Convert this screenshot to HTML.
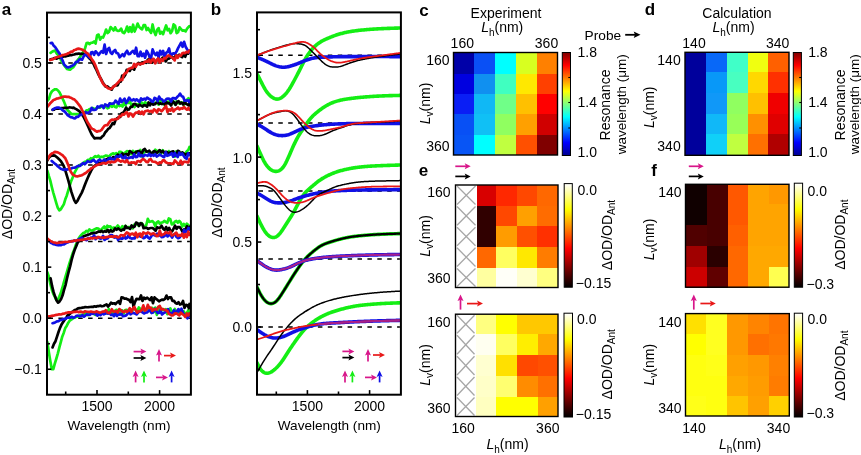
<!DOCTYPE html>
<html><head><meta charset="utf-8"><style>
html,body{margin:0;padding:0;background:#fff;}
svg{display:block;will-change:transform;}
</style></head><body>
<svg width="861" height="455" viewBox="0 0 861 455">
<rect width="861" height="455" fill="#fff"/>
<defs>
<linearGradient id="jet" x1="0" y1="1" x2="0" y2="0">
<stop offset="0" stop-color="#00008f"/><stop offset="0.125" stop-color="#0000ff"/><stop offset="0.375" stop-color="#00ffff"/><stop offset="0.625" stop-color="#ffff00"/><stop offset="0.875" stop-color="#ff0000"/><stop offset="1" stop-color="#800000"/>
</linearGradient>
<linearGradient id="hot" x1="0" y1="1" x2="0" y2="0">
<stop offset="0" stop-color="#000000"/><stop offset="0.375" stop-color="#ff0000"/><stop offset="0.75" stop-color="#ffff00"/><stop offset="1" stop-color="#ffffff"/>
</linearGradient>
</defs>
<clipPath id="ca"><rect x="47.0" y="12.6" width="143.9" height="382.09999999999997"/></clipPath>
<clipPath id="cb0"><rect x="318" y="300" width="82.9" height="40"/></clipPath>
<clipPath id="cb"><rect x="257" y="12.4" width="143.9" height="382.3"/></clipPath>
<line x1="48.5" y1="62.95" x2="189.9" y2="62.95" stroke="#000" stroke-width="1.5" stroke-dasharray="4.5 5.4"/>
<line x1="48.5" y1="114" x2="189.9" y2="114" stroke="#000" stroke-width="1.5" stroke-dasharray="4.5 5.4"/>
<line x1="48.5" y1="165.05" x2="189.9" y2="165.05" stroke="#000" stroke-width="1.5" stroke-dasharray="4.5 5.4"/>
<line x1="48.5" y1="241.62" x2="189.9" y2="241.62" stroke="#000" stroke-width="1.5" stroke-dasharray="4.5 5.4"/>
<line x1="48.5" y1="318.2" x2="189.9" y2="318.2" stroke="#000" stroke-width="1.5" stroke-dasharray="4.5 5.4"/>
<path d="M50.6 52.89 L52.1 51.76 L53.6 51 L55.1 50.55 L56.6 53.35 L58.1 55.07 L59.6 56.96 L61.1 60.37 L62.6 62.76 L64.1 65.18 L65.6 67.23 L67.1 69.05 L68.6 69.47 L70.1 69.66 L71.6 68.31 L73.1 67.42 L74.6 65.22 L76.1 62.77 L77.6 60.18 L79.1 58.23 L80.6 56.07 L82.1 53.41 L83.6 51.52 L85.1 48.22 L86.6 43.1 L88.1 42.86 L89.6 44.11 L91.1 42.78 L92.6 42.63 L94.1 41.46 L95.6 43.58 L97.1 35.26 L98.6 34.59 L100.1 39.65 L101.6 37.07 L103.1 37.56 L104.6 34.08 L106.1 29.54 L107.6 33.02 L109.1 31.64 L110.6 27.05 L112.1 28.58 L113.6 30.52 L115.1 27.34 L116.6 30.32 L118.1 30.95 L119.6 30.66 L121.1 28.59 L122.6 32.33 L124.1 33.15 L125.6 30.86 L127.1 26.53 L128.6 31.81 L130.1 27.2 L131.6 31.91 L133.1 24.71 L134.6 31.58 L136.1 28.07 L137.6 23.57 L139.1 26.89 L140.6 28.32 L142.1 29.33 L143.6 25.15 L145.1 25.05 L146.6 30.07 L148.1 28.02 L149.6 30.79 L151.1 32.86 L152.6 24.46 L154.1 31.46 L155.6 35.1 L157.1 29.81 L158.6 28.07 L160.1 33.69 L161.6 31.88 L163.1 34.13 L164.6 29.62 L166.1 25.48 L167.6 30.27 L169.1 28.97 L170.6 33.23 L172.1 31.04 L173.6 24.4 L175.1 25.82 L176.6 33.09 L178.1 32.18 L179.6 27.27 L181.1 29.32 L182.6 30.61 L184.1 30.33 L185.6 31.37 L187.1 28.71 L188.6 26.97 L189.5 26.08" fill="none" stroke="#14ee14" stroke-width="2.7" stroke-linejoin="round" stroke-linecap="round" clip-path="url(#ca)"/>
<path d="M50.2 59.64 L51.7 59.13 L53.2 58.8 L54.7 58 L56.2 58.61 L57.7 58.13 L59.2 57.47 L60.7 57.4 L62.2 56.97 L63.7 56.47 L65.2 56.51 L66.7 55.92 L68.2 55.62 L69.7 55.22 L71.2 55.2 L72.7 54.72 L74.2 54.49 L75.7 53.89 L77.2 53.81 L78.7 53.5 L80.2 53.91 L81.7 53.82 L83.2 53.95 L84.7 54.31 L86.2 54.84 L87.7 56.33 L89.2 58.21 L90.7 59.46 L92.2 61.66 L93.7 64.22 L95.2 67.71 L96.7 70.4 L98.2 73.92 L99.7 76.79 L101.2 79.44 L102.7 82.43 L104.2 84.54 L105.7 86.67 L107.2 86.34 L108.7 87.62 L110.2 88.4 L111.7 89.58 L113.2 86.74 L114.7 85.67 L116.2 85.28 L117.7 85.32 L119.2 81.84 L120.7 81.64 L122.2 75.59 L123.7 77.17 L125.2 75.03 L126.7 69.92 L128.2 70.71 L129.7 71 L131.2 68.14 L132.7 68.44 L134.2 69.57 L135.7 65.64 L137.2 64.16 L138.7 62.83 L140.2 64.42 L141.7 62.67 L143.2 62.26 L144.7 61.98 L146.2 62.77 L147.7 59.9 L149.2 58.96 L150.7 57.39 L152.2 62.66 L153.7 60.8 L155.2 62.79 L156.7 60.34 L158.2 59.05 L159.7 60.65 L161.2 59.56 L162.7 57.51 L164.2 57.76 L165.7 61.42 L167.2 58.98 L168.7 58.76 L170.2 57.41 L171.7 56.49 L173.2 58.58 L174.7 56.82 L176.2 55.57 L177.7 56.22 L179.2 54.77 L180.7 56.09 L182.2 57.14 L183.7 53.79 L185.2 56.72 L186.7 53.05 L188.2 53.73 L189.5 51.75" fill="none" stroke="#000000" stroke-width="2.7" stroke-linejoin="round" stroke-linecap="round" clip-path="url(#ca)"/>
<path d="M50.6 43.13 L52.1 42.9 L53.6 45.6 L55.1 47.08 L56.6 49.19 L58.1 51.61 L59.6 53.6 L61.1 57.42 L62.6 60.48 L64.1 64.57 L65.6 65.9 L67.1 67.19 L68.6 67.3 L70.1 66.74 L71.6 65.92 L73.1 65.3 L74.6 64.06 L76.1 61.85 L77.6 61.99 L79.1 59.79 L80.6 59.03 L82.1 59.72 L83.6 56.49 L85.1 54.48 L86.6 55.22 L88.1 56.38 L89.6 57.82 L91.1 52.54 L92.6 52.03 L94.1 54.82 L95.6 51.31 L97.1 52.84 L98.6 54.98 L100.1 52.96 L101.6 51.23 L103.1 52.77 L104.6 44.62 L106.1 54.04 L107.6 49.42 L109.1 47.85 L110.6 52.65 L112.1 53.81 L113.6 51.23 L115.1 49.93 L116.6 53.04 L118.1 53.46 L119.6 57.35 L121.1 55.76 L122.6 54.27 L124.1 56.23 L125.6 52.79 L127.1 50.77 L128.6 54.14 L130.1 53.96 L131.6 51.99 L133.1 50.81 L134.6 53.68 L136.1 47.75 L137.6 56.07 L139.1 56.24 L140.6 51.67 L142.1 56.09 L143.6 53.68 L145.1 57.71 L146.6 50.83 L148.1 53.27 L149.6 56.89 L151.1 57.67 L152.6 49.43 L154.1 53.17 L155.6 54.96 L157.1 52.55 L158.6 57.68 L160.1 50.85 L161.6 54.41 L163.1 50.88 L164.6 56.58 L166.1 52.93 L167.6 51.86 L169.1 48.38 L170.6 56.27 L172.1 53.72 L173.6 53.34 L175.1 53.79 L176.6 51.33 L178.1 48.17 L179.6 45.43 L181.1 42.67 L182.6 46.82 L184.1 41.77 L185.6 46.73 L187.1 49.29 L188.6 51.35 L189.5 52.38" fill="none" stroke="#1010e6" stroke-width="2.7" stroke-linejoin="round" stroke-linecap="round" clip-path="url(#ca)"/>
<path d="M50.2 59.96 L51.7 59.4 L53.2 59.14 L54.7 58.31 L56.2 57.24 L57.7 57.03 L59.2 56.38 L60.7 56.04 L62.2 55.16 L63.7 55.03 L65.2 54.48 L66.7 54.17 L68.2 53.27 L69.7 52.65 L71.2 51.55 L72.7 51.67 L74.2 50 L75.7 49.77 L77.2 48.85 L78.7 48.64 L80.2 48.95 L81.7 49.43 L83.2 50.25 L84.7 51.01 L86.2 52.69 L87.7 53.52 L89.2 55.6 L90.7 57.37 L92.2 59.92 L93.7 61.82 L95.2 65.11 L96.7 68.96 L98.2 72.59 L99.7 76.89 L101.2 79.95 L102.7 83.02 L104.2 85.11 L105.7 86.01 L107.2 87.54 L108.7 88.56 L110.2 89.08 L111.7 88.72 L113.2 86.82 L114.7 86.04 L116.2 84.44 L117.7 82.81 L119.2 81.23 L120.7 79.51 L122.2 79.98 L123.7 74.99 L125.2 73.25 L126.7 72.48 L128.2 69.2 L129.7 68.61 L131.2 67.89 L132.7 67.82 L134.2 63.91 L135.7 66.85 L137.2 63.78 L138.7 63.91 L140.2 64.3 L141.7 63.54 L143.2 63.66 L144.7 62.03 L146.2 61.44 L147.7 61.64 L149.2 59.6 L150.7 62.52 L152.2 59.6 L153.7 58.79 L155.2 63.31 L156.7 60.11 L158.2 58.49 L159.7 62.54 L161.2 59.24 L162.7 60.91 L164.2 57.96 L165.7 58.45 L167.2 56.1 L168.7 55.47 L170.2 56.45 L171.7 57.42 L173.2 58.38 L174.7 60.41 L176.2 55.32 L177.7 57.92 L179.2 55.36 L180.7 55.65 L182.2 53.39 L183.7 52.86 L185.2 53.11 L186.7 51.67 L188.2 52.37 L189.5 50.52" fill="none" stroke="#e81818" stroke-width="2.7" stroke-linejoin="round" stroke-linecap="round" clip-path="url(#ca)"/>
<path d="M47.5 100.8 L49 98.62 L50.5 93.72 L52 91.23 L53.5 90.1 L55 89.24 L56.5 89.44 L58 90.52 L59.5 92.44 L61 95.38 L62.5 98.52 L64 101.61 L65.5 105.53 L67 109.26 L68.5 111.04 L70 112.43 L71.5 114.05 L73 114 L74.5 114.14 L76 114.18 L77.5 114.12 L79 114.44 L80.5 114 L82 113.21 L83.5 112.73 L85 112.17 L86.5 110.37 L88 110.33 L89.5 109.2 L91 109.14 L92.5 107.98 L94 108.77 L95.5 108.58 L97 108.21 L98.5 107.28 L100 107.66 L101.5 106.52 L103 105.8 L104.5 107.4 L106 105.45 L107.5 108.34 L109 107.59 L110.5 103.43 L112 106.83 L113.5 104.8 L115 107.03 L116.5 107.34 L118 103.78 L119.5 106.09 L121 105.18 L122.5 106.61 L124 102.52 L125.5 105.35 L127 101.83 L128.5 102.8 L130 101.7 L131.5 105.47 L133 103.97 L134.5 107.13 L136 104.09 L137.5 104.44 L139 104.43 L140.5 101.97 L142 102.88 L143.5 105.3 L145 102.33 L146.5 103.32 L148 102.96 L149.5 104.04 L151 102.38 L152.5 102.74 L154 103.41 L155.5 103.18 L157 101.59 L158.5 104.66 L160 101.02 L161.5 101.29 L163 101.23 L164.5 105.12 L166 102.89 L167.5 101.85 L169 101.57 L170.5 104.22 L172 101.71 L173.5 101.34 L175 104.54 L176.5 101.47 L178 102.93 L179.5 103.35 L181 102.41 L182.5 102.8 L184 104.83 L185.5 101.29 L187 99.61 L188.5 98.18 L189.5 100.65" fill="none" stroke="#14ee14" stroke-width="2.7" stroke-linejoin="round" stroke-linecap="round" clip-path="url(#ca)"/>
<path d="M52.6 109.84 L54.1 109.64 L55.6 108.33 L57.1 108.59 L58.6 108.61 L60.1 108.49 L61.6 108.15 L63.1 108.17 L64.6 107.8 L66.1 107.82 L67.6 107.74 L69.1 107.46 L70.6 107.51 L72.1 107.79 L73.6 107.71 L75.1 108.61 L76.6 109.34 L78.1 110.33 L79.6 111.39 L81.1 113.65 L82.6 115.29 L84.1 117.89 L85.6 121.04 L87.1 124.21 L88.6 127.42 L90.1 130.96 L91.6 134.22 L93.1 136.48 L94.6 138.38 L96.1 138.15 L97.6 138.13 L99.1 138.1 L100.6 138.34 L102.1 136.62 L103.6 135.51 L105.1 132.57 L106.6 131.07 L108.1 128.93 L109.6 128.1 L111.1 125.8 L112.6 123.16 L114.1 124.06 L115.6 119.91 L117.1 118.37 L118.6 117.23 L120.1 117.14 L121.6 113.24 L123.1 112.77 L124.6 110.72 L126.1 107.57 L127.6 109.8 L129.1 109.4 L130.6 106.92 L132.1 106.82 L133.6 104.23 L135.1 103.88 L136.6 105.3 L138.1 106.58 L139.6 104.72 L141.1 105.67 L142.6 106.5 L144.1 105.01 L145.6 105.55 L147.1 106.69 L148.6 102.48 L150.1 105.33 L151.6 101.27 L153.1 104.67 L154.6 104.3 L156.1 103.18 L157.6 102.38 L159.1 103.91 L160.6 103.38 L162.1 104.15 L163.6 102.64 L165.1 104.82 L166.6 102.44 L168.1 103.45 L169.6 103.16 L171.1 105.46 L172.6 101.11 L174.1 102.55 L175.6 104.82 L177.1 102.01 L178.6 101.16 L180.1 103.48 L181.6 102.69 L183.1 104.47 L184.6 101.97 L186.1 103.8 L187.6 104.7 L189.1 105.49 L189.5 102.34" fill="none" stroke="#000000" stroke-width="2.7" stroke-linejoin="round" stroke-linecap="round" clip-path="url(#ca)"/>
<path d="M52.6 109.6 L54.1 108.69 L55.6 107.95 L57.1 107.52 L58.6 107.66 L60.1 108.1 L61.6 109.28 L63.1 110.63 L64.6 111.52 L66.1 113.21 L67.6 115.12 L69.1 116.21 L70.6 117.11 L72.1 117.39 L73.6 118.18 L75.1 118.49 L76.6 116.75 L78.1 116.83 L79.6 115.1 L81.1 114.82 L82.6 113.4 L84.1 114.05 L85.6 112.22 L87.1 113.23 L88.6 112.53 L90.1 111.54 L91.6 107.92 L93.1 109.86 L94.6 109.91 L96.1 109.53 L97.6 106.37 L99.1 107.37 L100.6 105.91 L102.1 105.58 L103.6 108.07 L105.1 104.44 L106.6 105.22 L108.1 106.27 L109.6 103.41 L111.1 103.75 L112.6 103.67 L114.1 103.14 L115.6 100.55 L117.1 102.25 L118.6 103.91 L120.1 98.61 L121.6 102.03 L123.1 100.33 L124.6 98.78 L126.1 103.04 L127.6 100.93 L129.1 97.63 L130.6 99.68 L132.1 100.48 L133.6 99.19 L135.1 100.63 L136.6 99.39 L138.1 100.6 L139.6 101.87 L141.1 98.39 L142.6 99.84 L144.1 98.74 L145.6 99.72 L147.1 97.6 L148.6 98.69 L150.1 99.43 L151.6 101.35 L153.1 101.84 L154.6 97.81 L156.1 98.68 L157.6 101.02 L159.1 96.6 L160.6 99.03 L162.1 99.54 L163.6 101.67 L165.1 100.63 L166.6 98.86 L168.1 98.69 L169.6 98.77 L171.1 101.56 L172.6 98.17 L174.1 98.16 L175.6 98.88 L177.1 97.03 L178.6 95.7 L180.1 93.66 L181.6 96.14 L183.1 96.74 L184.6 100.68 L186.1 100.65 L187.6 100.24 L189.1 101.97 L189.5 100.44" fill="none" stroke="#1010e6" stroke-width="2.7" stroke-linejoin="round" stroke-linecap="round" clip-path="url(#ca)"/>
<path d="M47.5 106.63 L49 104.87 L50.5 102.95 L52 101.52 L53.5 100 L55 99.53 L56.5 98.6 L58 98.37 L59.5 97.92 L61 97.59 L62.5 97.08 L64 96.63 L65.5 96.68 L67 96.9 L68.5 96.77 L70 97.53 L71.5 98 L73 99.01 L74.5 99.62 L76 101.17 L77.5 102.96 L79 104.88 L80.5 106.85 L82 109.96 L83.5 112.85 L85 116.58 L86.5 120.18 L88 123.05 L89.5 125.17 L91 127.96 L92.5 128.82 L94 129.62 L95.5 130.92 L97 131.73 L98.5 131.06 L100 131 L101.5 129.99 L103 127.76 L104.5 125.78 L106 125.11 L107.5 125.17 L109 122.52 L110.5 120.71 L112 119.71 L113.5 119.88 L115 119.1 L116.5 119.24 L118 118.72 L119.5 116.09 L121 116.08 L122.5 114.1 L124 114.73 L125.5 112.75 L127 112.31 L128.5 116.47 L130 113.44 L131.5 114.1 L133 116.57 L134.5 113.96 L136 112.55 L137.5 112.65 L139 111.39 L140.5 113.82 L142 111.66 L143.5 114.4 L145 111.22 L146.5 110.94 L148 110.57 L149.5 111.74 L151 110.84 L152.5 112.24 L154 109.31 L155.5 110.29 L157 112.38 L158.5 109.12 L160 110 L161.5 111.27 L163 109.7 L164.5 107.95 L166 105.91 L167.5 112.15 L169 109.4 L170.5 110.56 L172 108.13 L173.5 111.35 L175 109.53 L176.5 108.87 L178 107.55 L179.5 109.36 L181 108.24 L182.5 108.71 L184 106.87 L185.5 108.59 L187 109.65 L188.5 107.84 L189.5 109.8" fill="none" stroke="#e81818" stroke-width="2.7" stroke-linejoin="round" stroke-linecap="round" clip-path="url(#ca)"/>
<path d="M47.3 170.6 L48.8 175.85 L50.3 180.67 L51.8 186.98 L53.3 192.75 L54.8 197.94 L56.3 203.02 L57.8 207.8 L59.3 210.29 L60.8 209.27 L62.3 206.8 L63.8 204.38 L65.3 199.33 L66.8 195.47 L68.3 190.34 L69.8 185.45 L71.3 180.71 L72.8 177.26 L74.3 173.06 L75.8 170.31 L77.3 167.54 L78.8 166.18 L80.3 164.57 L81.8 164.61 L83.3 162.92 L84.8 161.85 L86.3 161.52 L87.8 159.85 L89.3 160.08 L90.8 158.23 L92.3 158.93 L93.8 157.3 L95.3 156.2 L96.8 156.91 L98.3 155.73 L99.8 157.49 L101.3 156.69 L102.8 157.04 L104.3 156.33 L105.8 155.54 L107.3 155.83 L108.8 157.09 L110.3 155.08 L111.8 153.92 L113.3 153.28 L114.8 154.23 L116.3 153.06 L117.8 157.27 L119.3 151.81 L120.8 151.73 L122.3 152.81 L123.8 154.22 L125.3 152.47 L126.8 151.14 L128.3 151.27 L129.8 151.95 L131.3 154.16 L132.8 150.84 L134.3 152.34 L135.8 151.46 L137.3 153.05 L138.8 153.18 L140.3 150.01 L141.8 156.56 L143.3 152.82 L144.8 151.63 L146.3 150.98 L147.8 152.06 L149.3 152.55 L150.8 153.51 L152.3 152.51 L153.8 153.32 L155.3 149.77 L156.8 151.25 L158.3 150.84 L159.8 152.88 L161.3 153.42 L162.8 150.21 L164.3 152.48 L165.8 154.06 L167.3 154.44 L168.8 151.06 L170.3 153.97 L171.8 153.67 L173.3 152.44 L174.8 156.62 L176.3 151.48 L177.8 152.98 L179.3 154.27 L180.8 153.85 L182.3 152.69 L183.8 154.5 L185.3 153.51 L186.8 151.27 L188.3 149.94 L189.5 146.91" fill="none" stroke="#14ee14" stroke-width="2.7" stroke-linejoin="round" stroke-linecap="round" clip-path="url(#ca)"/>
<path d="M47.3 160.65 L48.8 157.71 L50.3 156.18 L51.8 155.81 L53.3 155.37 L54.8 155.62 L56.3 156.72 L57.8 158.02 L59.3 159.4 L60.8 161.11 L62.3 163.42 L63.8 166.22 L65.3 170.3 L66.8 175.33 L68.3 180.4 L69.8 186 L71.3 191.67 L72.8 196.07 L74.3 200.35 L75.8 202.78 L77.3 201.07 L78.8 198.11 L80.3 195.41 L81.8 192.6 L83.3 189.06 L84.8 184.95 L86.3 181.17 L87.8 177.68 L89.3 174.39 L90.8 171.3 L92.3 168.68 L93.8 166.35 L95.3 165.41 L96.8 164.07 L98.3 163.24 L99.8 163.2 L101.3 161.87 L102.8 161.31 L104.3 160.92 L105.8 159.78 L107.3 158.91 L108.8 158.31 L110.3 159.05 L111.8 158.37 L113.3 156.97 L114.8 158.11 L116.3 156.71 L117.8 154.64 L119.3 156.43 L120.8 155.27 L122.3 153.54 L123.8 155.65 L125.3 154.33 L126.8 154.08 L128.3 155.31 L129.8 151.02 L131.3 152.18 L132.8 153.23 L134.3 153.95 L135.8 152.26 L137.3 151.42 L138.8 151.02 L140.3 152.16 L141.8 153.17 L143.3 149.92 L144.8 148.95 L146.3 151.6 L147.8 151.46 L149.3 150.66 L150.8 152.93 L152.3 153.21 L153.8 151.15 L155.3 151.5 L156.8 152.91 L158.3 151.48 L159.8 150.1 L161.3 152.2 L162.8 151.03 L164.3 152.96 L165.8 151.78 L167.3 152.31 L168.8 153.43 L170.3 152.52 L171.8 151.81 L173.3 151.31 L174.8 155.47 L176.3 154.62 L177.8 150.79 L179.3 151.56 L180.8 154.12 L182.3 152.47 L183.8 153.5 L185.3 154.83 L186.8 153.93 L188.3 153.69 L189.5 153.29" fill="none" stroke="#000000" stroke-width="2.7" stroke-linejoin="round" stroke-linecap="round" clip-path="url(#ca)"/>
<path d="M51.7 160.91 L53.2 162.31 L54.7 163.51 L56.2 164.61 L57.7 166.31 L59.2 167.51 L60.7 168.71 L62.2 169.34 L63.7 169.87 L65.2 169.21 L66.7 169.82 L68.2 169.12 L69.7 169.1 L71.2 168.39 L72.7 167.76 L74.2 167.64 L75.7 167.33 L77.2 166.21 L78.7 165.74 L80.2 165.87 L81.7 164.14 L83.2 163.05 L84.7 164.26 L86.2 162.8 L87.7 161.08 L89.2 161.84 L90.7 161.87 L92.2 160.68 L93.7 159.95 L95.2 161.62 L96.7 162.54 L98.2 160.71 L99.7 159.67 L101.2 161.08 L102.7 161.3 L104.2 159.51 L105.7 160.51 L107.2 161 L108.7 158.89 L110.2 157.75 L111.7 159.28 L113.2 158.92 L114.7 160 L116.2 156.24 L117.7 156.99 L119.2 156.55 L120.7 155.03 L122.2 157.66 L123.7 158.1 L125.2 156.05 L126.7 159.09 L128.2 158.09 L129.7 157.66 L131.2 157.18 L132.7 157.87 L134.2 154.29 L135.7 157.05 L137.2 156.89 L138.7 153.19 L140.2 156.23 L141.7 155.21 L143.2 156.66 L144.7 154.75 L146.2 155.3 L147.7 155.78 L149.2 153.89 L150.7 156.04 L152.2 154.92 L153.7 155.75 L155.2 154.16 L156.7 156.48 L158.2 155.67 L159.7 154.41 L161.2 155.55 L162.7 156.43 L164.2 157.19 L165.7 152.14 L167.2 155.85 L168.7 155.27 L170.2 154.49 L171.7 153.19 L173.2 156.67 L174.7 152.98 L176.2 155.81 L177.7 156.99 L179.2 152.73 L180.7 154.78 L182.2 153.38 L183.7 155.83 L185.2 157.87 L186.7 158.77 L188.2 153.21 L189.5 155.14" fill="none" stroke="#1010e6" stroke-width="2.7" stroke-linejoin="round" stroke-linecap="round" clip-path="url(#ca)"/>
<path d="M47.3 159.8 L48.8 157.09 L50.3 154.81 L51.8 153.58 L53.3 152.87 L54.8 151.85 L56.3 152.1 L57.8 152.33 L59.3 153.09 L60.8 154.11 L62.3 155.05 L63.8 156.6 L65.3 158.27 L66.8 161.62 L68.3 165.16 L69.8 169.91 L71.3 172.54 L72.8 174.62 L74.3 175.44 L75.8 176.23 L77.3 176.43 L78.8 176.01 L80.3 175.6 L81.8 175.2 L83.3 174.39 L84.8 173.51 L86.3 172.59 L87.8 171.24 L89.3 170.22 L90.8 168.57 L92.3 167.98 L93.8 166.71 L95.3 165.94 L96.8 165.03 L98.3 164.68 L99.8 164.08 L101.3 163.76 L102.8 163.06 L104.3 163.01 L105.8 163.66 L107.3 162.64 L108.8 161.78 L110.3 162.64 L111.8 161.68 L113.3 162.08 L114.8 161.96 L116.3 160.91 L117.8 159.27 L119.3 160.7 L120.8 161.6 L122.3 160.55 L123.8 161.48 L125.3 162.15 L126.8 160.22 L128.3 162.56 L129.8 163.16 L131.3 162.41 L132.8 162.53 L134.3 162.45 L135.8 164.1 L137.3 161.25 L138.8 161.04 L140.3 161.94 L141.8 159.88 L143.3 159.04 L144.8 160.07 L146.3 161.96 L147.8 162.25 L149.3 159.58 L150.8 159.23 L152.3 161.51 L153.8 161.74 L155.3 161.93 L156.8 162.94 L158.3 163.72 L159.8 162.32 L161.3 162.86 L162.8 160.47 L164.3 160.35 L165.8 162.34 L167.3 163.03 L168.8 163.25 L170.3 163.24 L171.8 163.7 L173.3 163.91 L174.8 160.46 L176.3 161.96 L177.8 163.63 L179.3 163.76 L180.8 160.67 L182.3 164.24 L183.8 161.73 L185.3 161.73 L186.8 162.09 L188.3 162.38 L189.5 158.99" fill="none" stroke="#e81818" stroke-width="2.7" stroke-linejoin="round" stroke-linecap="round" clip-path="url(#ca)"/>
<path d="M47.3 272.11 L48.8 276.38 L50.3 283.75 L51.8 289.53 L53.3 293.86 L54.8 296.7 L56.3 300 L57.8 299.83 L59.3 296.59 L60.8 293.03 L62.3 288 L63.8 282.5 L65.3 277.31 L66.8 272.26 L68.3 267.23 L69.8 262.17 L71.3 257.69 L72.8 252.92 L74.3 249.51 L75.8 244.81 L77.3 241.73 L78.8 238.3 L80.3 236.07 L81.8 234.35 L83.3 232.91 L84.8 232.67 L86.3 230.89 L87.8 231.64 L89.3 229.48 L90.8 230.37 L92.3 230.68 L93.8 229.75 L95.3 228.97 L96.8 228.28 L98.3 228.53 L99.8 229.93 L101.3 229.63 L102.8 228.03 L104.3 226.5 L105.8 229.02 L107.3 225.7 L108.8 226.89 L110.3 226.35 L111.8 228.68 L113.3 227.66 L114.8 227.95 L116.3 227.44 L117.8 225.51 L119.3 227.64 L120.8 229.13 L122.3 226.27 L123.8 227.38 L125.3 225.82 L126.8 227.83 L128.3 227.01 L129.8 227.26 L131.3 226.12 L132.8 228.39 L134.3 224.49 L135.8 224.39 L137.3 223.76 L138.8 225.86 L140.3 223.4 L141.8 223.2 L143.3 225.62 L144.8 226.28 L146.3 225.03 L147.8 218.79 L149.3 221.87 L150.8 221.5 L152.3 221.11 L153.8 222.46 L155.3 226.46 L156.8 222.32 L158.3 221.33 L159.8 223.83 L161.3 222.48 L162.8 222.43 L164.3 220.81 L165.8 222.02 L167.3 222.81 L168.8 218.47 L170.3 219.13 L171.8 224.31 L173.3 224.02 L174.8 221.68 L176.3 220.9 L177.8 222.63 L179.3 220.91 L180.8 222.68 L182.3 226.59 L183.8 223.94 L185.3 226.08 L186.8 223.69 L188.3 225.01 L189.5 227.09" fill="none" stroke="#14ee14" stroke-width="2.7" stroke-linejoin="round" stroke-linecap="round" clip-path="url(#ca)"/>
<path d="M50.6 278.39 L52.1 286.2 L53.6 292.15 L55.1 296.6 L56.6 300.47 L58.1 302.7 L59.6 301.37 L61.1 298.96 L62.6 295.3 L64.1 289.57 L65.6 284.81 L67.1 277.98 L68.6 271.83 L70.1 266.36 L71.6 259.95 L73.1 254.69 L74.6 249.98 L76.1 246.53 L77.6 242.7 L79.1 240.69 L80.6 239.46 L82.1 237.54 L83.6 236.34 L85.1 235.75 L86.6 235.16 L88.1 234.59 L89.6 234.27 L91.1 233.25 L92.6 233.49 L94.1 232.72 L95.6 232.97 L97.1 232.33 L98.6 231.53 L100.1 231.78 L101.6 230.93 L103.1 232.13 L104.6 231.19 L106.1 231.74 L107.6 229.82 L109.1 232.19 L110.6 230.1 L112.1 231.66 L113.6 230.92 L115.1 228.38 L116.6 229.86 L118.1 228.48 L119.6 229.51 L121.1 230.75 L122.6 229.45 L124.1 229.82 L125.6 225.97 L127.1 227.93 L128.6 227.91 L130.1 228.94 L131.6 225.48 L133.1 227.17 L134.6 226.46 L136.1 222.56 L137.6 223.18 L139.1 225.82 L140.6 223.21 L142.1 223.69 L143.6 228.24 L145.1 227.93 L146.6 227.72 L148.1 228.89 L149.6 228.26 L151.1 228 L152.6 228 L154.1 229.33 L155.6 230.79 L157.1 227.36 L158.6 227.93 L160.1 227.61 L161.6 225.79 L163.1 228.64 L164.6 229.92 L166.1 227.05 L167.6 230.26 L169.1 227.9 L170.6 231.11 L172.1 231.33 L173.6 228.56 L175.1 225.74 L176.6 228.79 L178.1 226.97 L179.6 227.13 L181.1 229.04 L182.6 231.95 L184.1 229.33 L185.6 229.1 L187.1 226.17 L188.6 228.41 L189.5 226.99" fill="none" stroke="#000000" stroke-width="2.7" stroke-linejoin="round" stroke-linecap="round" clip-path="url(#ca)"/>
<path d="M50.6 242.68 L52.1 243.4 L53.6 244.22 L55.1 244.4 L56.6 244.97 L58.1 245.29 L59.6 244.87 L61.1 245.18 L62.6 244.31 L64.1 244.31 L65.6 243.44 L67.1 242.51 L68.6 242.08 L70.1 241.55 L71.6 241.14 L73.1 241.24 L74.6 240.46 L76.1 240.85 L77.6 240.04 L79.1 239.3 L80.6 238.08 L82.1 237.81 L83.6 239.15 L85.1 239.5 L86.6 240.17 L88.1 237.98 L89.6 238.61 L91.1 237.48 L92.6 237.82 L94.1 235.33 L95.6 239.14 L97.1 237.06 L98.6 237.88 L100.1 238.58 L101.6 238.35 L103.1 235.8 L104.6 239.98 L106.1 238.78 L107.6 238.34 L109.1 236.54 L110.6 235.07 L112.1 234.99 L113.6 237.08 L115.1 237.6 L116.6 236.26 L118.1 240.03 L119.6 237.7 L121.1 238.72 L122.6 238.55 L124.1 235.55 L125.6 238.61 L127.1 237.76 L128.6 235.14 L130.1 238.08 L131.6 238.56 L133.1 238.36 L134.6 238.41 L136.1 234.66 L137.6 236.34 L139.1 235.83 L140.6 236.67 L142.1 236.69 L143.6 238.17 L145.1 237.55 L146.6 235.12 L148.1 237.66 L149.6 238.69 L151.1 236.65 L152.6 233.88 L154.1 235.13 L155.6 235.79 L157.1 233.59 L158.6 235.8 L160.1 234.09 L161.6 237.19 L163.1 237.03 L164.6 235.89 L166.1 234.12 L167.6 236.43 L169.1 235.04 L170.6 234.97 L172.1 237.67 L173.6 234.86 L175.1 233.93 L176.6 237.06 L178.1 238.23 L179.6 237.54 L181.1 235.46 L182.6 235.63 L184.1 229.85 L185.6 231.92 L187.1 231.15 L188.6 227.91 L189.5 229.62" fill="none" stroke="#1010e6" stroke-width="2.7" stroke-linejoin="round" stroke-linecap="round" clip-path="url(#ca)"/>
<path d="M47.3 238.48 L48.8 239.84 L50.3 240.88 L51.8 241.63 L53.3 242.41 L54.8 242.49 L56.3 243.05 L57.8 242.91 L59.3 242.57 L60.8 242.52 L62.3 242.45 L63.8 241.98 L65.3 241.92 L66.8 242.01 L68.3 241.71 L69.8 241.53 L71.3 241.3 L72.8 241.01 L74.3 240.47 L75.8 240.87 L77.3 240.14 L78.8 240.28 L80.3 239.98 L81.8 239.79 L83.3 239.57 L84.8 239.2 L86.3 239.22 L87.8 238.53 L89.3 238.76 L90.8 238.04 L92.3 238.47 L93.8 237.94 L95.3 237.96 L96.8 238.08 L98.3 236.94 L99.8 237.31 L101.3 237.5 L102.8 237.54 L104.3 237.68 L105.8 237.21 L107.3 237.05 L108.8 236.68 L110.3 236.66 L111.8 236.39 L113.3 237.02 L114.8 236.22 L116.3 236.56 L117.8 237.38 L119.3 236.87 L120.8 235.15 L122.3 235.23 L123.8 236.02 L125.3 234.13 L126.8 232.35 L128.3 233.15 L129.8 235.09 L131.3 233.93 L132.8 233.68 L134.3 235.19 L135.8 232.64 L137.3 237.27 L138.8 234.11 L140.3 233.6 L141.8 236.88 L143.3 232.47 L144.8 233.24 L146.3 233.72 L147.8 232.41 L149.3 233.19 L150.8 234.4 L152.3 233.76 L153.8 233.43 L155.3 234.88 L156.8 236.14 L158.3 235.69 L159.8 230.57 L161.3 235.42 L162.8 234.59 L164.3 234.07 L165.8 232.13 L167.3 232.9 L168.8 233.29 L170.3 231.7 L171.8 235.46 L173.3 235.06 L174.8 233.88 L176.3 232.64 L177.8 235.92 L179.3 234.99 L180.8 235.64 L182.3 233.63 L183.8 237.63 L185.3 234.14 L186.8 237.13 L188.3 231.65 L189.5 234.93" fill="none" stroke="#e81818" stroke-width="2.7" stroke-linejoin="round" stroke-linecap="round" clip-path="url(#ca)"/>
<path d="M47.3 341.88 L48.8 351.89 L50.3 360.92 L51.8 369.24 L53.3 369.06 L54.8 363.69 L56.3 358.76 L57.8 353.55 L59.3 347.64 L60.8 342.09 L62.3 336.39 L63.8 332.67 L65.3 327.95 L66.8 325.66 L68.3 322.69 L69.8 320.52 L71.3 319.61 L72.8 318.31 L74.3 317.74 L75.8 316.93 L77.3 316.61 L78.8 316.1 L80.3 315.19 L81.8 314.89 L83.3 314.87 L84.8 314.37 L86.3 313.12 L87.8 315.12 L89.3 312.54 L90.8 312.33 L92.3 312.66 L93.8 313.93 L95.3 314.93 L96.8 313.06 L98.3 312.8 L99.8 313.29 L101.3 312.61 L102.8 313.04 L104.3 311.44 L105.8 313.34 L107.3 313.22 L108.8 309.08 L110.3 312.31 L111.8 312.63 L113.3 313.18 L114.8 310.78 L116.3 309.8 L117.8 310.33 L119.3 312.77 L120.8 310.28 L122.3 310.32 L123.8 313.45 L125.3 310.05 L126.8 309.74 L128.3 310.99 L129.8 311.35 L131.3 312.64 L132.8 309.2 L134.3 307.83 L135.8 310.09 L137.3 311.2 L138.8 307.42 L140.3 308.98 L141.8 310.24 L143.3 310.09 L144.8 309.85 L146.3 309.28 L147.8 308.37 L149.3 308.17 L150.8 311.74 L152.3 307.91 L153.8 311.93 L155.3 307.64 L156.8 314.85 L158.3 307 L159.8 312.72 L161.3 308.52 L162.8 309.91 L164.3 310.07 L165.8 309.16 L167.3 314.16 L168.8 310.64 L170.3 308.35 L171.8 311.82 L173.3 312.06 L174.8 309.03 L176.3 312.03 L177.8 311.4 L179.3 312.85 L180.8 312.86 L182.3 311.84 L183.8 311.38 L185.3 313.85 L186.8 313.08 L188.3 310.26 L189.5 312.07" fill="none" stroke="#14ee14" stroke-width="2.7" stroke-linejoin="round" stroke-linecap="round" clip-path="url(#ca)"/>
<path d="M52.5 347.46 L54 343.76 L55.5 341.2 L57 336.65 L58.5 332.02 L60 327.87 L61.5 324.57 L63 322.22 L64.5 319.97 L66 318.27 L67.5 315.47 L69 314.7 L70.5 313.3 L72 311.91 L73.5 311.16 L75 309.91 L76.5 309.42 L78 308.42 L79.5 308.18 L81 307.98 L82.5 307.61 L84 307.43 L85.5 307.06 L87 307.25 L88.5 307.17 L90 306.98 L91.5 306.86 L93 306.97 L94.5 306.26 L96 306.73 L97.5 306.1 L99 306.04 L100.5 305.66 L102 306.29 L103.5 306 L105 305.1 L106.5 304.39 L108 306.56 L109.5 304.91 L111 302.62 L112.5 303.73 L114 303.29 L115.5 304.15 L117 302.43 L118.5 301.18 L120 303.85 L121.5 297.46 L123 297.59 L124.5 298.63 L126 298.53 L127.5 299.37 L129 299.79 L130.5 302.14 L132 297.08 L133.5 306.7 L135 301.78 L136.5 298.83 L138 299.14 L139.5 299.19 L141 295.39 L142.5 300.85 L144 297.67 L145.5 298.86 L147 297.7 L148.5 298.74 L150 300.05 L151.5 297.3 L153 303.19 L154.5 297.32 L156 298.95 L157.5 299.95 L159 301.3 L160.5 300.41 L162 299.59 L163.5 299.82 L165 298.84 L166.5 295.58 L168 298.98 L169.5 297.24 L171 297.39 L172.5 300.84 L174 300.89 L175.5 303.07 L177 303.71 L178.5 302.29 L180 304.59 L181.5 304.07 L183 300.97 L184.5 307.85 L186 304.91 L187.5 305.25 L189 308.35 L189.5 303.97" fill="none" stroke="#000000" stroke-width="2.7" stroke-linejoin="round" stroke-linecap="round" clip-path="url(#ca)"/>
<path d="M52.5 323.22 L54 322.91 L55.5 322.18 L57 321.36 L58.5 321.08 L60 320.04 L61.5 319.95 L63 319.15 L64.5 318.91 L66 318.39 L67.5 317.63 L69 317.68 L70.5 317.39 L72 316.76 L73.5 317.88 L75 317.12 L76.5 315.74 L78 315.61 L79.5 316.32 L81 316.16 L82.5 315.13 L84 316.69 L85.5 315.55 L87 314.45 L88.5 314.8 L90 314.88 L91.5 313.14 L93 313.86 L94.5 312.48 L96 314.37 L97.5 315.59 L99 312.82 L100.5 315.16 L102 312.88 L103.5 314.38 L105 313.83 L106.5 312.76 L108 313.73 L109.5 312.68 L111 314.91 L112.5 314.49 L114 316.17 L115.5 312.12 L117 315.89 L118.5 314.07 L120 314.72 L121.5 313.75 L123 316.27 L124.5 315.95 L126 315.38 L127.5 314.06 L129 310.07 L130.5 314.29 L132 313.26 L133.5 312.91 L135 313.55 L136.5 314.46 L138 312.84 L139.5 311.53 L141 310.89 L142.5 312.48 L144 313.5 L145.5 312.61 L147 312.43 L148.5 311.02 L150 309.8 L151.5 313.03 L153 312.48 L154.5 308.78 L156 310.38 L157.5 312.87 L159 312.87 L160.5 310.21 L162 314.46 L163.5 313.13 L165 312.43 L166.5 310.85 L168 309.06 L169.5 312.52 L171 314.16 L172.5 313.06 L174 310.26 L175.5 313.76 L177 311.22 L178.5 309.08 L180 313.03 L181.5 308.69 L183 313.17 L184.5 314.84 L186 315.31 L187.5 318.33 L189 315.81 L189.5 313.53" fill="none" stroke="#1010e6" stroke-width="2.7" stroke-linejoin="round" stroke-linecap="round" clip-path="url(#ca)"/>
<path d="M47.3 316.21 L48.8 316.46 L50.3 316.34 L51.8 315.88 L53.3 315.7 L54.8 315.26 L56.3 314.89 L57.8 314.61 L59.3 314.29 L60.8 314.49 L62.3 313.95 L63.8 313.69 L65.3 313.17 L66.8 312.75 L68.3 312.44 L69.8 312.31 L71.3 312.5 L72.8 312.18 L74.3 311.91 L75.8 311.87 L77.3 311.54 L78.8 312.21 L80.3 311.6 L81.8 311.93 L83.3 312.47 L84.8 311.3 L86.3 311.6 L87.8 311.78 L89.3 312.01 L90.8 311.55 L92.3 311.93 L93.8 311.99 L95.3 312.04 L96.8 311.32 L98.3 312.23 L99.8 312.66 L101.3 312.21 L102.8 311.61 L104.3 311.63 L105.8 310.24 L107.3 312.35 L108.8 313.19 L110.3 312.55 L111.8 309.23 L113.3 311.44 L114.8 311.61 L116.3 311.02 L117.8 312.58 L119.3 309.04 L120.8 310.09 L122.3 311.66 L123.8 312.05 L125.3 310.68 L126.8 311.84 L128.3 310.85 L129.8 308.07 L131.3 311.9 L132.8 308.83 L134.3 306.9 L135.8 310.35 L137.3 312.64 L138.8 311.19 L140.3 311.23 L141.8 309.85 L143.3 305.35 L144.8 310.57 L146.3 309.61 L147.8 304.82 L149.3 308.07 L150.8 307.61 L152.3 310.81 L153.8 309.21 L155.3 309.51 L156.8 309.46 L158.3 306.89 L159.8 305.92 L161.3 309.43 L162.8 308.99 L164.3 309.81 L165.8 310.33 L167.3 310.86 L168.8 313.89 L170.3 314.62 L171.8 315.45 L173.3 315.14 L174.8 313.45 L176.3 313.24 L177.8 314.32 L179.3 315.4 L180.8 312.63 L182.3 314.17 L183.8 314.95 L185.3 317 L186.8 313.48 L188.3 315.51 L189.5 313.39" fill="none" stroke="#e81818" stroke-width="2.7" stroke-linejoin="round" stroke-linecap="round" clip-path="url(#ca)"/>
<rect x="47.0" y="12.6" width="143.9" height="382.09999999999997" fill="none" stroke="#000" stroke-width="2"/>
<line x1="47" y1="369.25" x2="51.3" y2="369.25" stroke="#000" stroke-width="1.6" />
<line x1="47" y1="343.72" x2="50" y2="343.72" stroke="#000" stroke-width="1.6" />
<line x1="47" y1="318.2" x2="51.3" y2="318.2" stroke="#000" stroke-width="1.6" />
<line x1="47" y1="292.68" x2="50" y2="292.68" stroke="#000" stroke-width="1.6" />
<line x1="47" y1="267.15" x2="51.3" y2="267.15" stroke="#000" stroke-width="1.6" />
<line x1="47" y1="241.62" x2="50" y2="241.62" stroke="#000" stroke-width="1.6" />
<line x1="47" y1="216.1" x2="51.3" y2="216.1" stroke="#000" stroke-width="1.6" />
<line x1="47" y1="190.57" x2="50" y2="190.57" stroke="#000" stroke-width="1.6" />
<line x1="47" y1="165.05" x2="51.3" y2="165.05" stroke="#000" stroke-width="1.6" />
<line x1="47" y1="139.52" x2="50" y2="139.52" stroke="#000" stroke-width="1.6" />
<line x1="47" y1="114" x2="51.3" y2="114" stroke="#000" stroke-width="1.6" />
<line x1="47" y1="88.47" x2="50" y2="88.47" stroke="#000" stroke-width="1.6" />
<line x1="47" y1="62.95" x2="51.3" y2="62.95" stroke="#000" stroke-width="1.6" />
<line x1="47" y1="37.42" x2="50" y2="37.42" stroke="#000" stroke-width="1.6" />
<text x="41.9" y="67.95" font-size="14" text-anchor="end" font-weight="normal" font-family="Liberation Sans, sans-serif" >0.5</text>
<text x="41.9" y="119" font-size="14" text-anchor="end" font-weight="normal" font-family="Liberation Sans, sans-serif" >0.4</text>
<text x="41.9" y="170.05" font-size="14" text-anchor="end" font-weight="normal" font-family="Liberation Sans, sans-serif" >0.3</text>
<text x="41.9" y="221.1" font-size="14" text-anchor="end" font-weight="normal" font-family="Liberation Sans, sans-serif" >0.2</text>
<text x="41.9" y="272.15" font-size="14" text-anchor="end" font-weight="normal" font-family="Liberation Sans, sans-serif" >0.1</text>
<text x="41.9" y="323.2" font-size="14" text-anchor="end" font-weight="normal" font-family="Liberation Sans, sans-serif" >0.0</text>
<text x="41.9" y="374.25" font-size="14" text-anchor="end" font-weight="normal" font-family="Liberation Sans, sans-serif" >&#8722;0.1</text>
<line x1="65.7" y1="394.7" x2="65.7" y2="391.5" stroke="#000" stroke-width="1.6" />
<line x1="97" y1="394.7" x2="97" y2="390.1" stroke="#000" stroke-width="1.6" />
<line x1="128.3" y1="394.7" x2="128.3" y2="391.5" stroke="#000" stroke-width="1.6" />
<line x1="159.6" y1="394.7" x2="159.6" y2="390.1" stroke="#000" stroke-width="1.6" />
<text x="97" y="410.5" font-size="14" text-anchor="middle" font-weight="normal" font-family="Liberation Sans, sans-serif" >1500</text>
<text x="159.6" y="410.5" font-size="14" text-anchor="middle" font-weight="normal" font-family="Liberation Sans, sans-serif" >2000</text>
<text x="119" y="430" font-size="13.6" text-anchor="middle" font-weight="normal" font-family="Liberation Sans, sans-serif" >Wavelength (nm)</text>
<text transform="translate(12.3 204) rotate(-90)" font-size="14" text-anchor="middle" font-family="Liberation Sans, sans-serif">&#916;OD/OD<tspan font-size="10" dy="3">Ant</tspan></text>
<text x="1.8" y="15.2" font-size="17" text-anchor="start" font-weight="bold" font-family="Liberation Sans, sans-serif" >a</text>
<line x1="133.6" y1="351.6" x2="142" y2="351.6" stroke="#d8168a" stroke-width="1.7" />
<path d="M146.4 351.6 L140.4 348.6 L141.7 351.6 L140.4 354.6 Z" fill="#d8168a"/>
<line x1="133.6" y1="358" x2="142" y2="358" stroke="#000000" stroke-width="1.7" />
<path d="M146.4 358 L140.4 355 L141.7 358 L140.4 361 Z" fill="#000000"/>
<line x1="159" y1="361.6" x2="159" y2="353.9" stroke="#d8168a" stroke-width="1.7" />
<path d="M159 349 L156 355.5 L159 354.2 L162 355.5 Z" fill="#d8168a"/>
<line x1="164" y1="355.6" x2="171.6" y2="355.6" stroke="#e81818" stroke-width="1.7" />
<path d="M176 355.6 L170 352.6 L171.3 355.6 L170 358.6 Z" fill="#e81818"/>
<line x1="135.6" y1="382.4" x2="135.6" y2="375.3" stroke="#d8168a" stroke-width="1.7" />
<path d="M135.6 370.4 L132.6 376.9 L135.6 375.6 L138.6 376.9 Z" fill="#d8168a"/>
<line x1="144" y1="382.4" x2="144" y2="375.3" stroke="#14ee14" stroke-width="1.7" />
<path d="M144 370.4 L141 376.9 L144 375.6 L147 376.9 Z" fill="#14ee14"/>
<line x1="156" y1="377.4" x2="163.6" y2="377.4" stroke="#d8168a" stroke-width="1.7" />
<path d="M168 377.4 L162 374.4 L163.3 377.4 L162 380.4 Z" fill="#d8168a"/>
<line x1="171.6" y1="382.4" x2="171.6" y2="375.3" stroke="#1010e6" stroke-width="1.7" />
<path d="M171.6 370.4 L168.6 376.9 L171.6 375.6 L174.6 376.9 Z" fill="#1010e6"/>
<line x1="258.5" y1="55.16" x2="399.9" y2="55.16" stroke="#000" stroke-width="1.5" stroke-dasharray="4.5 5.4"/>
<line x1="258.5" y1="123.12" x2="399.9" y2="123.12" stroke="#000" stroke-width="1.5" stroke-dasharray="4.5 5.4"/>
<line x1="258.5" y1="191.08" x2="399.9" y2="191.08" stroke="#000" stroke-width="1.5" stroke-dasharray="4.5 5.4"/>
<line x1="258.5" y1="259.04" x2="399.9" y2="259.04" stroke="#000" stroke-width="1.5" stroke-dasharray="4.5 5.4"/>
<line x1="258.5" y1="327" x2="399.9" y2="327" stroke="#000" stroke-width="1.5" stroke-dasharray="4.5 5.4"/>
<path d="M257 73.79 L257.8 75.33 L258.6 76.87 L259.4 78.42 L260.2 79.97 L261 81.55 L261.8 83.14 L262.6 84.72 L263.4 86.27 L264.2 87.75 L265 89.14 L265.8 90.42 L266.6 91.59 L267.4 92.66 L268.2 93.63 L269 94.52 L269.8 95.33 L270.6 96.07 L271.4 96.73 L272.2 97.33 L273 97.84 L273.8 98.27 L274.6 98.62 L275.4 98.87 L276.2 99.03 L277 99.09 L277.8 99.04 L278.6 98.9 L279.4 98.66 L280.2 98.33 L281 97.91 L281.8 97.41 L282.6 96.83 L283.4 96.17 L284.2 95.43 L285 94.62 L285.8 93.74 L286.6 92.79 L287.4 91.76 L288.2 90.66 L289 89.49 L289.8 88.25 L290.6 86.95 L291.4 85.58 L292.2 84.18 L293 82.73 L293.8 81.26 L294.6 79.77 L295.4 78.27 L296.2 76.75 L297 75.23 L297.8 73.7 L298.6 72.14 L299.4 70.57 L300.2 68.97 L301 67.35 L301.8 65.72 L302.6 64.11 L303.4 62.53 L304.2 60.99 L305 59.52 L305.8 58.12 L306.6 56.78 L307.4 55.51 L308.2 54.31 L309 53.16 L309.8 52.06 L310.6 51.03 L311.4 50.04 L312.2 49.1 L313 48.22 L313.8 47.38 L314.6 46.58 L315.4 45.83 L316.2 45.12 L317 44.45 L317.8 43.82 L318.6 43.22 L319.4 42.66 L320.2 42.14 L321 41.64 L321.8 41.18 L322.6 40.74 L323.4 40.32 L324.2 39.93 L325 39.55 L325.8 39.18 L326.6 38.83 L327.4 38.48 L328.2 38.13 L329 37.8 L329.8 37.47 L330.6 37.14 L331.4 36.82 L332.2 36.51 L333 36.21 L333.8 35.91 L334.6 35.62 L335.4 35.34 L336.2 35.07 L337 34.8 L337.8 34.54 L338.6 34.3 L339.4 34.06 L340.2 33.83 L341 33.6 L341.8 33.39 L342.6 33.18 L343.4 32.98 L344.2 32.79 L345 32.6 L345.8 32.43 L346.6 32.26 L347.4 32.1 L348.2 31.94 L349 31.79 L349.8 31.65 L350.6 31.51 L351.4 31.38 L352.2 31.26 L353 31.13 L353.8 31.02 L354.6 30.91 L355.4 30.8 L356.2 30.7 L357 30.6 L357.8 30.5 L358.6 30.41 L359.4 30.32 L360.2 30.24 L361 30.15 L361.8 30.07 L362.6 30 L363.4 29.92 L364.2 29.85 L365 29.78 L365.8 29.71 L366.6 29.64 L367.4 29.58 L368.2 29.52 L369 29.45 L369.8 29.39 L370.6 29.33 L371.4 29.28 L372.2 29.22 L373 29.17 L373.8 29.11 L374.6 29.06 L375.4 29.01 L376.2 28.96 L377 28.91 L377.8 28.87 L378.6 28.82 L379.4 28.78 L380.2 28.74 L381 28.7 L381.8 28.66 L382.6 28.62 L383.4 28.58 L384.2 28.55 L385 28.51 L385.8 28.48 L386.6 28.45 L387.4 28.41 L388.2 28.38 L389 28.36 L389.8 28.33 L390.6 28.3 L391.4 28.27 L392.2 28.25 L393 28.22 L393.8 28.2 L394.6 28.17 L395.4 28.15 L396.2 28.12 L397 28.1 L397.8 28.08 L398.6 28.05 L399.4 28.03 L400.2 28.01 L400.5 28" fill="none" stroke="#14ee14" stroke-width="3.6" stroke-linejoin="round" stroke-linecap="round" clip-path="url(#cb)"/>
<path d="M257 57.3 L257.8 57.61 L258.6 57.92 L259.4 58.24 L260.2 58.56 L261 58.88 L261.8 59.22 L262.6 59.56 L263.4 59.91 L264.2 60.28 L265 60.65 L265.8 61.02 L266.6 61.41 L267.4 61.8 L268.2 62.2 L269 62.61 L269.8 63.01 L270.6 63.41 L271.4 63.8 L272.2 64.18 L273 64.56 L273.8 64.91 L274.6 65.25 L275.4 65.57 L276.2 65.86 L277 66.13 L277.8 66.37 L278.6 66.59 L279.4 66.78 L280.2 66.93 L281 67.05 L281.8 67.14 L282.6 67.19 L283.4 67.21 L284.2 67.18 L285 67.13 L285.8 67.04 L286.6 66.93 L287.4 66.79 L288.2 66.63 L289 66.45 L289.8 66.26 L290.6 66.04 L291.4 65.82 L292.2 65.59 L293 65.34 L293.8 65.08 L294.6 64.8 L295.4 64.52 L296.2 64.22 L297 63.92 L297.8 63.6 L298.6 63.28 L299.4 62.95 L300.2 62.62 L301 62.28 L301.8 61.94 L302.6 61.61 L303.4 61.28 L304.2 60.95 L305 60.63 L305.8 60.32 L306.6 60.02 L307.4 59.74 L308.2 59.47 L309 59.21 L309.8 58.97 L310.6 58.74 L311.4 58.53 L312.2 58.34 L313 58.17 L313.8 58.01 L314.6 57.87 L315.4 57.74 L316.2 57.64 L317 57.55 L317.8 57.47 L318.6 57.41 L319.4 57.35 L320.2 57.3 L321 57.26 L321.8 57.22 L322.6 57.19 L323.4 57.15 L324.2 57.12 L325 57.08 L325.8 57.05 L326.6 57.02 L327.4 56.99 L328.2 56.96 L329 56.93 L329.8 56.9 L330.6 56.88 L331.4 56.85 L332.2 56.83 L333 56.81 L333.8 56.79 L334.6 56.77 L335.4 56.76 L336.2 56.74 L337 56.73 L337.8 56.71 L338.6 56.7 L339.4 56.69 L340.2 56.68 L341 56.67 L341.8 56.66 L342.6 56.65 L343.4 56.64 L344.2 56.64 L345 56.63 L345.8 56.62 L346.6 56.62 L347.4 56.61 L348.2 56.61 L349 56.6 L349.8 56.6 L350.6 56.6 L351.4 56.59 L352.2 56.59 L353 56.59 L353.8 56.58 L354.6 56.58 L355.4 56.58 L356.2 56.58 L357 56.57 L357.8 56.57 L358.6 56.57 L359.4 56.57 L360.2 56.56 L361 56.56 L361.8 56.56 L362.6 56.56 L363.4 56.56 L364.2 56.56 L365 56.56 L365.8 56.56 L366.6 56.56 L367.4 56.55 L368.2 56.55 L369 56.55 L369.8 56.55 L370.6 56.55 L371.4 56.55 L372.2 56.55 L373 56.55 L373.8 56.55 L374.6 56.55 L375.4 56.55 L376.2 56.55 L377 56.56 L377.8 56.56 L378.6 56.56 L379.4 56.56 L380.2 56.56 L381 56.56 L381.8 56.56 L382.6 56.56 L383.4 56.56 L384.2 56.56 L385 56.57 L385.8 56.57 L386.6 56.57 L387.4 56.57 L388.2 56.57 L389 56.57 L389.8 56.58 L390.6 56.58 L391.4 56.58 L392.2 56.58 L393 56.58 L393.8 56.58 L394.6 56.59 L395.4 56.59 L396.2 56.59 L397 56.59 L397.8 56.59 L398.6 56.6 L399.4 56.6 L400.2 56.6 L400.5 56.6" fill="none" stroke="#1010e6" stroke-width="3.6" stroke-linejoin="round" stroke-linecap="round" clip-path="url(#cb)"/>
<path d="M257 55.3 L257.8 54.99 L258.6 54.67 L259.4 54.36 L260.2 54.04 L261 53.73 L261.8 53.42 L262.6 53.11 L263.4 52.8 L264.2 52.49 L265 52.18 L265.8 51.88 L266.6 51.57 L267.4 51.27 L268.2 50.97 L269 50.67 L269.8 50.37 L270.6 50.08 L271.4 49.79 L272.2 49.51 L273 49.22 L273.8 48.94 L274.6 48.67 L275.4 48.4 L276.2 48.13 L277 47.87 L277.8 47.62 L278.6 47.37 L279.4 47.12 L280.2 46.88 L281 46.64 L281.8 46.41 L282.6 46.18 L283.4 45.96 L284.2 45.74 L285 45.52 L285.8 45.31 L286.6 45.1 L287.4 44.89 L288.2 44.69 L289 44.5 L289.8 44.32 L290.6 44.15 L291.4 44 L292.2 43.87 L293 43.76 L293.8 43.68 L294.6 43.63 L295.4 43.61 L296.2 43.62 L297 43.65 L297.8 43.72 L298.6 43.8 L299.4 43.89 L300.2 44 L301 44.11 L301.8 44.26 L302.6 44.44 L303.4 44.69 L304.2 45 L305 45.4 L305.8 45.89 L306.6 46.46 L307.4 47.08 L308.2 47.77 L309 48.49 L309.8 49.25 L310.6 50.04 L311.4 50.84 L312.2 51.66 L313 52.47 L313.8 53.29 L314.6 54.1 L315.4 54.9 L316.2 55.7 L317 56.51 L317.8 57.32 L318.6 58.13 L319.4 58.95 L320.2 59.76 L321 60.56 L321.8 61.34 L322.6 62.08 L323.4 62.79 L324.2 63.45 L325 64.06 L325.8 64.62 L326.6 65.11 L327.4 65.54 L328.2 65.9 L329 66.2 L329.8 66.45 L330.6 66.65 L331.4 66.81 L332.2 66.94 L333 67.03 L333.8 67.09 L334.6 67.12 L335.4 67.12 L336.2 67.08 L337 67.02 L337.8 66.92 L338.6 66.79 L339.4 66.63 L340.2 66.44 L341 66.22 L341.8 65.98 L342.6 65.71 L343.4 65.42 L344.2 65.13 L345 64.83 L345.8 64.53 L346.6 64.24 L347.4 63.94 L348.2 63.65 L349 63.36 L349.8 63.07 L350.6 62.79 L351.4 62.52 L352.2 62.25 L353 61.99 L353.8 61.74 L354.6 61.49 L355.4 61.25 L356.2 61.02 L357 60.8 L357.8 60.59 L358.6 60.39 L359.4 60.19 L360.2 60.01 L361 59.83 L361.8 59.65 L362.6 59.48 L363.4 59.32 L364.2 59.16 L365 59 L365.8 58.84 L366.6 58.69 L367.4 58.54 L368.2 58.4 L369 58.25 L369.8 58.11 L370.6 57.97 L371.4 57.83 L372.2 57.7 L373 57.57 L373.8 57.44 L374.6 57.31 L375.4 57.18 L376.2 57.06 L377 56.94 L377.8 56.82 L378.6 56.7 L379.4 56.59 L380.2 56.47 L381 56.36 L381.8 56.25 L382.6 56.14 L383.4 56.03 L384.2 55.93 L385 55.82 L385.8 55.72 L386.6 55.62 L387.4 55.52 L388.2 55.42 L389 55.32 L389.8 55.23 L390.6 55.13 L391.4 55.04 L392.2 54.94 L393 54.85 L393.8 54.76 L394.6 54.67 L395.4 54.57 L396.2 54.48 L397 54.39 L397.8 54.3 L398.6 54.21 L399.4 54.12 L400.2 54.03 L400.5 54" fill="none" stroke="#000000" stroke-width="1.5" stroke-linejoin="round" stroke-linecap="round" clip-path="url(#cb)"/>
<path d="M257 55.3 L257.8 55 L258.6 54.7 L259.4 54.4 L260.2 54.11 L261 53.81 L261.8 53.51 L262.6 53.22 L263.4 52.93 L264.2 52.64 L265 52.35 L265.8 52.07 L266.6 51.79 L267.4 51.51 L268.2 51.23 L269 50.96 L269.8 50.69 L270.6 50.43 L271.4 50.17 L272.2 49.91 L273 49.65 L273.8 49.4 L274.6 49.15 L275.4 48.9 L276.2 48.65 L277 48.4 L277.8 48.16 L278.6 47.92 L279.4 47.68 L280.2 47.44 L281 47.2 L281.8 46.97 L282.6 46.73 L283.4 46.49 L284.2 46.26 L285 46.03 L285.8 45.79 L286.6 45.56 L287.4 45.33 L288.2 45.1 L289 44.86 L289.8 44.63 L290.6 44.4 L291.4 44.17 L292.2 43.94 L293 43.71 L293.8 43.48 L294.6 43.26 L295.4 43.04 L296.2 42.84 L297 42.65 L297.8 42.47 L298.6 42.32 L299.4 42.18 L300.2 42.07 L301 41.98 L301.8 41.93 L302.6 41.92 L303.4 41.96 L304.2 42.07 L305 42.23 L305.8 42.47 L306.6 42.77 L307.4 43.12 L308.2 43.52 L309 43.97 L309.8 44.45 L310.6 44.97 L311.4 45.53 L312.2 46.12 L313 46.76 L313.8 47.43 L314.6 48.15 L315.4 48.92 L316.2 49.72 L317 50.54 L317.8 51.37 L318.6 52.18 L319.4 52.97 L320.2 53.71 L321 54.41 L321.8 55.08 L322.6 55.72 L323.4 56.34 L324.2 56.93 L325 57.51 L325.8 58.07 L326.6 58.6 L327.4 59.11 L328.2 59.58 L329 60.02 L329.8 60.43 L330.6 60.8 L331.4 61.14 L332.2 61.44 L333 61.72 L333.8 61.96 L334.6 62.17 L335.4 62.35 L336.2 62.49 L337 62.59 L337.8 62.67 L338.6 62.7 L339.4 62.7 L340.2 62.65 L341 62.58 L341.8 62.47 L342.6 62.34 L343.4 62.19 L344.2 62.03 L345 61.87 L345.8 61.7 L346.6 61.53 L347.4 61.37 L348.2 61.19 L349 61.02 L349.8 60.84 L350.6 60.66 L351.4 60.48 L352.2 60.3 L353 60.11 L353.8 59.93 L354.6 59.75 L355.4 59.57 L356.2 59.39 L357 59.21 L357.8 59.04 L358.6 58.88 L359.4 58.72 L360.2 58.57 L361 58.42 L361.8 58.28 L362.6 58.14 L363.4 58 L364.2 57.87 L365 57.74 L365.8 57.62 L366.6 57.49 L367.4 57.37 L368.2 57.26 L369 57.14 L369.8 57.03 L370.6 56.92 L371.4 56.8 L372.2 56.69 L373 56.58 L373.8 56.48 L374.6 56.37 L375.4 56.26 L376.2 56.15 L377 56.05 L377.8 55.94 L378.6 55.84 L379.4 55.73 L380.2 55.63 L381 55.52 L381.8 55.42 L382.6 55.31 L383.4 55.21 L384.2 55.11 L385 55 L385.8 54.89 L386.6 54.79 L387.4 54.68 L388.2 54.57 L389 54.47 L389.8 54.36 L390.6 54.25 L391.4 54.14 L392.2 54.03 L393 53.93 L393.8 53.82 L394.6 53.71 L395.4 53.6 L396.2 53.49 L397 53.38 L397.8 53.27 L398.6 53.16 L399.4 53.05 L400.2 52.94 L400.5 52.9" fill="none" stroke="#e81818" stroke-width="1.8" stroke-linejoin="round" stroke-linecap="round" clip-path="url(#cb)"/>
<path d="M257 146.01 L257.8 147.84 L258.6 149.66 L259.4 151.47 L260.2 153.26 L261 155.02 L261.8 156.75 L262.6 158.43 L263.4 160.04 L264.2 161.55 L265 162.96 L265.8 164.23 L266.6 165.37 L267.4 166.4 L268.2 167.32 L269 168.13 L269.8 168.85 L270.6 169.47 L271.4 170.01 L272.2 170.47 L273 170.83 L273.8 171.11 L274.6 171.29 L275.4 171.39 L276.2 171.41 L277 171.33 L277.8 171.16 L278.6 170.9 L279.4 170.53 L280.2 170.05 L281 169.44 L281.8 168.71 L282.6 167.84 L283.4 166.82 L284.2 165.65 L285 164.32 L285.8 162.86 L286.6 161.28 L287.4 159.6 L288.2 157.85 L289 156.04 L289.8 154.19 L290.6 152.33 L291.4 150.47 L292.2 148.64 L293 146.84 L293.8 145.09 L294.6 143.38 L295.4 141.73 L296.2 140.14 L297 138.62 L297.8 137.17 L298.6 135.8 L299.4 134.51 L300.2 133.27 L301 132.08 L301.8 130.91 L302.6 129.76 L303.4 128.59 L304.2 127.4 L305 126.19 L305.8 124.97 L306.6 123.76 L307.4 122.57 L308.2 121.42 L309 120.33 L309.8 119.31 L310.6 118.35 L311.4 117.46 L312.2 116.61 L313 115.81 L313.8 115.06 L314.6 114.33 L315.4 113.64 L316.2 112.96 L317 112.31 L317.8 111.66 L318.6 111.03 L319.4 110.4 L320.2 109.79 L321 109.2 L321.8 108.62 L322.6 108.06 L323.4 107.51 L324.2 106.98 L325 106.47 L325.8 105.98 L326.6 105.51 L327.4 105.06 L328.2 104.64 L329 104.23 L329.8 103.84 L330.6 103.47 L331.4 103.12 L332.2 102.78 L333 102.47 L333.8 102.17 L334.6 101.88 L335.4 101.61 L336.2 101.35 L337 101.11 L337.8 100.88 L338.6 100.67 L339.4 100.46 L340.2 100.27 L341 100.09 L341.8 99.92 L342.6 99.75 L343.4 99.6 L344.2 99.45 L345 99.31 L345.8 99.18 L346.6 99.06 L347.4 98.94 L348.2 98.82 L349 98.71 L349.8 98.6 L350.6 98.49 L351.4 98.39 L352.2 98.29 L353 98.19 L353.8 98.09 L354.6 98 L355.4 97.91 L356.2 97.82 L357 97.73 L357.8 97.65 L358.6 97.57 L359.4 97.49 L360.2 97.41 L361 97.33 L361.8 97.26 L362.6 97.19 L363.4 97.12 L364.2 97.05 L365 96.98 L365.8 96.91 L366.6 96.85 L367.4 96.79 L368.2 96.73 L369 96.67 L369.8 96.61 L370.6 96.56 L371.4 96.5 L372.2 96.45 L373 96.4 L373.8 96.35 L374.6 96.3 L375.4 96.25 L376.2 96.21 L377 96.16 L377.8 96.12 L378.6 96.08 L379.4 96.04 L380.2 96 L381 95.97 L381.8 95.93 L382.6 95.89 L383.4 95.86 L384.2 95.83 L385 95.8 L385.8 95.77 L386.6 95.74 L387.4 95.72 L388.2 95.69 L389 95.67 L389.8 95.65 L390.6 95.62 L391.4 95.6 L392.2 95.58 L393 95.56 L393.8 95.54 L394.6 95.52 L395.4 95.51 L396.2 95.49 L397 95.47 L397.8 95.46 L398.6 95.44 L399.4 95.42 L400.2 95.41 L400.5 95.4" fill="none" stroke="#14ee14" stroke-width="3.6" stroke-linejoin="round" stroke-linecap="round" clip-path="url(#cb)"/>
<path d="M257 124 L257.8 124.45 L258.6 124.9 L259.4 125.36 L260.2 125.82 L261 126.29 L261.8 126.77 L262.6 127.26 L263.4 127.76 L264.2 128.28 L265 128.8 L265.8 129.32 L266.6 129.85 L267.4 130.37 L268.2 130.89 L269 131.39 L269.8 131.88 L270.6 132.35 L271.4 132.8 L272.2 133.22 L273 133.62 L273.8 133.98 L274.6 134.31 L275.4 134.6 L276.2 134.85 L277 135.05 L277.8 135.22 L278.6 135.35 L279.4 135.45 L280.2 135.52 L281 135.57 L281.8 135.59 L282.6 135.58 L283.4 135.55 L284.2 135.49 L285 135.39 L285.8 135.27 L286.6 135.12 L287.4 134.93 L288.2 134.71 L289 134.45 L289.8 134.17 L290.6 133.86 L291.4 133.53 L292.2 133.18 L293 132.82 L293.8 132.45 L294.6 132.07 L295.4 131.69 L296.2 131.31 L297 130.94 L297.8 130.57 L298.6 130.21 L299.4 129.86 L300.2 129.52 L301 129.19 L301.8 128.88 L302.6 128.58 L303.4 128.3 L304.2 128.05 L305 127.81 L305.8 127.59 L306.6 127.38 L307.4 127.2 L308.2 127.02 L309 126.86 L309.8 126.71 L310.6 126.57 L311.4 126.43 L312.2 126.31 L313 126.18 L313.8 126.06 L314.6 125.95 L315.4 125.84 L316.2 125.73 L317 125.63 L317.8 125.52 L318.6 125.43 L319.4 125.33 L320.2 125.24 L321 125.15 L321.8 125.07 L322.6 124.99 L323.4 124.91 L324.2 124.83 L325 124.76 L325.8 124.69 L326.6 124.63 L327.4 124.56 L328.2 124.5 L329 124.44 L329.8 124.39 L330.6 124.33 L331.4 124.28 L332.2 124.23 L333 124.19 L333.8 124.14 L334.6 124.1 L335.4 124.06 L336.2 124.02 L337 123.99 L337.8 123.95 L338.6 123.92 L339.4 123.89 L340.2 123.86 L341 123.83 L341.8 123.8 L342.6 123.78 L343.4 123.75 L344.2 123.73 L345 123.71 L345.8 123.69 L346.6 123.67 L347.4 123.65 L348.2 123.63 L349 123.62 L349.8 123.6 L350.6 123.58 L351.4 123.57 L352.2 123.56 L353 123.54 L353.8 123.53 L354.6 123.52 L355.4 123.51 L356.2 123.49 L357 123.48 L357.8 123.47 L358.6 123.46 L359.4 123.46 L360.2 123.45 L361 123.44 L361.8 123.43 L362.6 123.43 L363.4 123.42 L364.2 123.41 L365 123.41 L365.8 123.4 L366.6 123.4 L367.4 123.4 L368.2 123.39 L369 123.39 L369.8 123.39 L370.6 123.39 L371.4 123.38 L372.2 123.38 L373 123.38 L373.8 123.38 L374.6 123.38 L375.4 123.38 L376.2 123.38 L377 123.38 L377.8 123.38 L378.6 123.38 L379.4 123.39 L380.2 123.39 L381 123.39 L381.8 123.39 L382.6 123.4 L383.4 123.4 L384.2 123.4 L385 123.41 L385.8 123.41 L386.6 123.41 L387.4 123.42 L388.2 123.42 L389 123.43 L389.8 123.43 L390.6 123.43 L391.4 123.44 L392.2 123.44 L393 123.45 L393.8 123.45 L394.6 123.46 L395.4 123.47 L396.2 123.47 L397 123.48 L397.8 123.48 L398.6 123.49 L399.4 123.49 L400.2 123.5 L400.5 123.5" fill="none" stroke="#1010e6" stroke-width="3.6" stroke-linejoin="round" stroke-linecap="round" clip-path="url(#cb)"/>
<path d="M257 120.7 L257.8 120.27 L258.6 119.84 L259.4 119.41 L260.2 118.98 L261 118.56 L261.8 118.14 L262.6 117.72 L263.4 117.31 L264.2 116.9 L265 116.49 L265.8 116.09 L266.6 115.71 L267.4 115.33 L268.2 114.97 L269 114.63 L269.8 114.3 L270.6 113.99 L271.4 113.71 L272.2 113.45 L273 113.21 L273.8 112.99 L274.6 112.8 L275.4 112.62 L276.2 112.45 L277 112.28 L277.8 112.12 L278.6 111.96 L279.4 111.8 L280.2 111.64 L281 111.47 L281.8 111.3 L282.6 111.14 L283.4 111.01 L284.2 110.9 L285 110.84 L285.8 110.83 L286.6 110.88 L287.4 111 L288.2 111.2 L289 111.48 L289.8 111.85 L290.6 112.31 L291.4 112.86 L292.2 113.5 L293 114.23 L293.8 115.05 L294.6 115.96 L295.4 116.93 L296.2 117.97 L297 119.04 L297.8 120.15 L298.6 121.27 L299.4 122.4 L300.2 123.52 L301 124.64 L301.8 125.73 L302.6 126.79 L303.4 127.82 L304.2 128.81 L305 129.74 L305.8 130.62 L306.6 131.44 L307.4 132.2 L308.2 132.88 L309 133.48 L309.8 134 L310.6 134.45 L311.4 134.82 L312.2 135.12 L313 135.37 L313.8 135.55 L314.6 135.69 L315.4 135.79 L316.2 135.85 L317 135.87 L317.8 135.86 L318.6 135.81 L319.4 135.73 L320.2 135.61 L321 135.46 L321.8 135.28 L322.6 135.07 L323.4 134.83 L324.2 134.55 L325 134.25 L325.8 133.93 L326.6 133.59 L327.4 133.24 L328.2 132.87 L329 132.5 L329.8 132.12 L330.6 131.75 L331.4 131.38 L332.2 131.03 L333 130.68 L333.8 130.35 L334.6 130.04 L335.4 129.74 L336.2 129.45 L337 129.16 L337.8 128.88 L338.6 128.61 L339.4 128.34 L340.2 128.07 L341 127.8 L341.8 127.53 L342.6 127.25 L343.4 126.97 L344.2 126.69 L345 126.41 L345.8 126.14 L346.6 125.87 L347.4 125.61 L348.2 125.36 L349 125.12 L349.8 124.91 L350.6 124.7 L351.4 124.52 L352.2 124.35 L353 124.19 L353.8 124.05 L354.6 123.92 L355.4 123.81 L356.2 123.7 L357 123.6 L357.8 123.51 L358.6 123.43 L359.4 123.35 L360.2 123.28 L361 123.21 L361.8 123.15 L362.6 123.09 L363.4 123.03 L364.2 122.97 L365 122.92 L365.8 122.87 L366.6 122.82 L367.4 122.78 L368.2 122.73 L369 122.69 L369.8 122.65 L370.6 122.61 L371.4 122.58 L372.2 122.54 L373 122.5 L373.8 122.47 L374.6 122.44 L375.4 122.4 L376.2 122.37 L377 122.33 L377.8 122.3 L378.6 122.26 L379.4 122.23 L380.2 122.19 L381 122.15 L381.8 122.11 L382.6 122.07 L383.4 122.03 L384.2 121.99 L385 121.95 L385.8 121.9 L386.6 121.86 L387.4 121.81 L388.2 121.77 L389 121.72 L389.8 121.67 L390.6 121.62 L391.4 121.58 L392.2 121.53 L393 121.48 L393.8 121.43 L394.6 121.38 L395.4 121.33 L396.2 121.28 L397 121.23 L397.8 121.17 L398.6 121.12 L399.4 121.07 L400.2 121.02 L400.5 121" fill="none" stroke="#000000" stroke-width="1.5" stroke-linejoin="round" stroke-linecap="round" clip-path="url(#cb)"/>
<path d="M257 120.7 L257.8 120.28 L258.6 119.85 L259.4 119.43 L260.2 119.01 L261 118.59 L261.8 118.17 L262.6 117.75 L263.4 117.33 L264.2 116.91 L265 116.5 L265.8 116.08 L266.6 115.67 L267.4 115.27 L268.2 114.87 L269 114.49 L269.8 114.12 L270.6 113.76 L271.4 113.42 L272.2 113.1 L273 112.81 L273.8 112.53 L274.6 112.28 L275.4 112.05 L276.2 111.84 L277 111.66 L277.8 111.48 L278.6 111.33 L279.4 111.19 L280.2 111.07 L281 110.95 L281.8 110.86 L282.6 110.78 L283.4 110.72 L284.2 110.68 L285 110.66 L285.8 110.66 L286.6 110.69 L287.4 110.74 L288.2 110.83 L289 110.94 L289.8 111.09 L290.6 111.29 L291.4 111.54 L292.2 111.85 L293 112.22 L293.8 112.67 L294.6 113.2 L295.4 113.81 L296.2 114.49 L297 115.23 L297.8 116.03 L298.6 116.86 L299.4 117.72 L300.2 118.6 L301 119.48 L301.8 120.35 L302.6 121.22 L303.4 122.07 L304.2 122.9 L305 123.7 L305.8 124.48 L306.6 125.23 L307.4 125.94 L308.2 126.61 L309 127.24 L309.8 127.82 L310.6 128.36 L311.4 128.85 L312.2 129.29 L313 129.67 L313.8 130.01 L314.6 130.29 L315.4 130.52 L316.2 130.69 L317 130.82 L317.8 130.91 L318.6 130.95 L319.4 130.97 L320.2 130.95 L321 130.91 L321.8 130.84 L322.6 130.76 L323.4 130.66 L324.2 130.55 L325 130.43 L325.8 130.29 L326.6 130.15 L327.4 129.99 L328.2 129.84 L329 129.67 L329.8 129.51 L330.6 129.34 L331.4 129.17 L332.2 129.01 L333 128.84 L333.8 128.69 L334.6 128.53 L335.4 128.37 L336.2 128.21 L337 128.05 L337.8 127.88 L338.6 127.71 L339.4 127.53 L340.2 127.34 L341 127.14 L341.8 126.92 L342.6 126.69 L343.4 126.45 L344.2 126.2 L345 125.95 L345.8 125.69 L346.6 125.44 L347.4 125.19 L348.2 124.95 L349 124.72 L349.8 124.51 L350.6 124.31 L351.4 124.14 L352.2 123.97 L353 123.83 L353.8 123.7 L354.6 123.58 L355.4 123.47 L356.2 123.37 L357 123.28 L357.8 123.2 L358.6 123.12 L359.4 123.05 L360.2 122.98 L361 122.92 L361.8 122.85 L362.6 122.79 L363.4 122.74 L364.2 122.68 L365 122.63 L365.8 122.57 L366.6 122.52 L367.4 122.48 L368.2 122.43 L369 122.38 L369.8 122.34 L370.6 122.29 L371.4 122.25 L372.2 122.21 L373 122.17 L373.8 122.12 L374.6 122.08 L375.4 122.04 L376.2 122 L377 121.96 L377.8 121.92 L378.6 121.87 L379.4 121.83 L380.2 121.79 L381 121.74 L381.8 121.7 L382.6 121.65 L383.4 121.61 L384.2 121.56 L385 121.51 L385.8 121.46 L386.6 121.41 L387.4 121.36 L388.2 121.31 L389 121.26 L389.8 121.21 L390.6 121.16 L391.4 121.11 L392.2 121.06 L393 121 L393.8 120.95 L394.6 120.9 L395.4 120.84 L396.2 120.79 L397 120.74 L397.8 120.68 L398.6 120.63 L399.4 120.57 L400.2 120.52 L400.5 120.5" fill="none" stroke="#e81818" stroke-width="1.8" stroke-linejoin="round" stroke-linecap="round" clip-path="url(#cb)"/>
<path d="M257 216.02 L257.8 217.77 L258.6 219.51 L259.4 221.22 L260.2 222.91 L261 224.54 L261.8 226.12 L262.6 227.62 L263.4 229.05 L264.2 230.38 L265 231.6 L265.8 232.71 L266.6 233.69 L267.4 234.54 L268.2 235.27 L269 235.89 L269.8 236.41 L270.6 236.83 L271.4 237.16 L272.2 237.38 L273 237.49 L273.8 237.49 L274.6 237.37 L275.4 237.13 L276.2 236.76 L277 236.27 L277.8 235.65 L278.6 234.9 L279.4 234.03 L280.2 233.06 L281 232.01 L281.8 230.89 L282.6 229.71 L283.4 228.5 L284.2 227.25 L285 225.99 L285.8 224.72 L286.6 223.45 L287.4 222.19 L288.2 220.95 L289 219.71 L289.8 218.48 L290.6 217.23 L291.4 215.96 L292.2 214.65 L293 213.29 L293.8 211.87 L294.6 210.41 L295.4 208.91 L296.2 207.4 L297 205.89 L297.8 204.38 L298.6 202.9 L299.4 201.44 L300.2 200.04 L301 198.68 L301.8 197.39 L302.6 196.17 L303.4 195.03 L304.2 193.98 L305 193.01 L305.8 192.11 L306.6 191.28 L307.4 190.49 L308.2 189.75 L309 189.04 L309.8 188.35 L310.6 187.67 L311.4 186.99 L312.2 186.31 L313 185.62 L313.8 184.94 L314.6 184.26 L315.4 183.59 L316.2 182.93 L317 182.28 L317.8 181.66 L318.6 181.06 L319.4 180.49 L320.2 179.93 L321 179.4 L321.8 178.89 L322.6 178.4 L323.4 177.93 L324.2 177.47 L325 177.03 L325.8 176.6 L326.6 176.18 L327.4 175.77 L328.2 175.38 L329 175 L329.8 174.63 L330.6 174.27 L331.4 173.92 L332.2 173.59 L333 173.26 L333.8 172.95 L334.6 172.65 L335.4 172.36 L336.2 172.08 L337 171.81 L337.8 171.55 L338.6 171.3 L339.4 171.06 L340.2 170.83 L341 170.61 L341.8 170.39 L342.6 170.19 L343.4 169.98 L344.2 169.79 L345 169.6 L345.8 169.41 L346.6 169.24 L347.4 169.06 L348.2 168.89 L349 168.73 L349.8 168.57 L350.6 168.42 L351.4 168.28 L352.2 168.14 L353 168 L353.8 167.87 L354.6 167.75 L355.4 167.63 L356.2 167.52 L357 167.41 L357.8 167.3 L358.6 167.21 L359.4 167.11 L360.2 167.02 L361 166.94 L361.8 166.85 L362.6 166.78 L363.4 166.7 L364.2 166.63 L365 166.56 L365.8 166.5 L366.6 166.44 L367.4 166.38 L368.2 166.32 L369 166.26 L369.8 166.21 L370.6 166.16 L371.4 166.11 L372.2 166.07 L373 166.02 L373.8 165.98 L374.6 165.94 L375.4 165.9 L376.2 165.86 L377 165.82 L377.8 165.78 L378.6 165.75 L379.4 165.72 L380.2 165.68 L381 165.65 L381.8 165.62 L382.6 165.59 L383.4 165.56 L384.2 165.53 L385 165.5 L385.8 165.47 L386.6 165.44 L387.4 165.42 L388.2 165.39 L389 165.36 L389.8 165.34 L390.6 165.31 L391.4 165.28 L392.2 165.26 L393 165.23 L393.8 165.21 L394.6 165.18 L395.4 165.16 L396.2 165.13 L397 165.11 L397.8 165.08 L398.6 165.06 L399.4 165.03 L400.2 165.01 L400.5 165" fill="none" stroke="#14ee14" stroke-width="3.6" stroke-linejoin="round" stroke-linecap="round" clip-path="url(#cb)"/>
<path d="M257 193.1 L257.8 193.53 L258.6 193.97 L259.4 194.4 L260.2 194.85 L261 195.3 L261.8 195.76 L262.6 196.23 L263.4 196.71 L264.2 197.2 L265 197.7 L265.8 198.22 L266.6 198.73 L267.4 199.23 L268.2 199.72 L269 200.19 L269.8 200.63 L270.6 201.04 L271.4 201.42 L272.2 201.74 L273 202.03 L273.8 202.26 L274.6 202.46 L275.4 202.61 L276.2 202.73 L277 202.82 L277.8 202.88 L278.6 202.91 L279.4 202.91 L280.2 202.89 L281 202.85 L281.8 202.78 L282.6 202.7 L283.4 202.6 L284.2 202.48 L285 202.34 L285.8 202.18 L286.6 202.01 L287.4 201.82 L288.2 201.61 L289 201.39 L289.8 201.15 L290.6 200.9 L291.4 200.64 L292.2 200.37 L293 200.08 L293.8 199.79 L294.6 199.5 L295.4 199.2 L296.2 198.9 L297 198.6 L297.8 198.31 L298.6 198.02 L299.4 197.74 L300.2 197.46 L301 197.2 L301.8 196.94 L302.6 196.7 L303.4 196.45 L304.2 196.22 L305 195.99 L305.8 195.77 L306.6 195.56 L307.4 195.35 L308.2 195.15 L309 194.95 L309.8 194.75 L310.6 194.56 L311.4 194.38 L312.2 194.19 L313 194.01 L313.8 193.83 L314.6 193.66 L315.4 193.49 L316.2 193.32 L317 193.16 L317.8 193 L318.6 192.85 L319.4 192.7 L320.2 192.56 L321 192.42 L321.8 192.29 L322.6 192.16 L323.4 192.03 L324.2 191.92 L325 191.81 L325.8 191.7 L326.6 191.6 L327.4 191.51 L328.2 191.42 L329 191.34 L329.8 191.26 L330.6 191.19 L331.4 191.12 L332.2 191.06 L333 191 L333.8 190.94 L334.6 190.89 L335.4 190.84 L336.2 190.79 L337 190.75 L337.8 190.71 L338.6 190.67 L339.4 190.63 L340.2 190.59 L341 190.55 L341.8 190.52 L342.6 190.49 L343.4 190.45 L344.2 190.42 L345 190.39 L345.8 190.36 L346.6 190.33 L347.4 190.31 L348.2 190.28 L349 190.26 L349.8 190.23 L350.6 190.21 L351.4 190.19 L352.2 190.17 L353 190.14 L353.8 190.12 L354.6 190.11 L355.4 190.09 L356.2 190.07 L357 190.05 L357.8 190.04 L358.6 190.02 L359.4 190.01 L360.2 190 L361 189.98 L361.8 189.97 L362.6 189.96 L363.4 189.95 L364.2 189.94 L365 189.93 L365.8 189.92 L366.6 189.91 L367.4 189.9 L368.2 189.9 L369 189.89 L369.8 189.88 L370.6 189.87 L371.4 189.87 L372.2 189.86 L373 189.85 L373.8 189.85 L374.6 189.84 L375.4 189.84 L376.2 189.83 L377 189.82 L377.8 189.82 L378.6 189.81 L379.4 189.8 L380.2 189.8 L381 189.79 L381.8 189.79 L382.6 189.78 L383.4 189.77 L384.2 189.76 L385 189.76 L385.8 189.75 L386.6 189.74 L387.4 189.73 L388.2 189.73 L389 189.72 L389.8 189.71 L390.6 189.7 L391.4 189.7 L392.2 189.69 L393 189.68 L393.8 189.67 L394.6 189.66 L395.4 189.65 L396.2 189.65 L397 189.64 L397.8 189.63 L398.6 189.62 L399.4 189.61 L400.2 189.6 L400.5 189.6" fill="none" stroke="#1010e6" stroke-width="3.6" stroke-linejoin="round" stroke-linecap="round" clip-path="url(#cb)"/>
<path d="M257 185.79 L257.8 185.74 L258.6 185.7 L259.4 185.66 L260.2 185.64 L261 185.64 L261.8 185.66 L262.6 185.71 L263.4 185.79 L264.2 185.91 L265 186.07 L265.8 186.28 L266.6 186.53 L267.4 186.81 L268.2 187.12 L269 187.46 L269.8 187.81 L270.6 188.19 L271.4 188.64 L272.2 189.16 L273 189.78 L273.8 190.52 L274.6 191.36 L275.4 192.28 L276.2 193.27 L277 194.31 L277.8 195.37 L278.6 196.44 L279.4 197.52 L280.2 198.61 L281 199.7 L281.8 200.79 L282.6 201.89 L283.4 202.98 L284.2 204.05 L285 205.1 L285.8 206.12 L286.6 207.08 L287.4 207.99 L288.2 208.82 L289 209.57 L289.8 210.24 L290.6 210.81 L291.4 211.29 L292.2 211.67 L293 211.95 L293.8 212.13 L294.6 212.21 L295.4 212.19 L296.2 212.09 L297 211.9 L297.8 211.65 L298.6 211.33 L299.4 210.96 L300.2 210.55 L301 210.1 L301.8 209.63 L302.6 209.13 L303.4 208.6 L304.2 208.04 L305 207.45 L305.8 206.83 L306.6 206.17 L307.4 205.48 L308.2 204.76 L309 203.99 L309.8 203.2 L310.6 202.38 L311.4 201.55 L312.2 200.71 L313 199.87 L313.8 199.05 L314.6 198.25 L315.4 197.49 L316.2 196.77 L317 196.09 L317.8 195.48 L318.6 194.91 L319.4 194.38 L320.2 193.89 L321 193.44 L321.8 193.01 L322.6 192.6 L323.4 192.21 L324.2 191.83 L325 191.46 L325.8 191.09 L326.6 190.71 L327.4 190.34 L328.2 189.96 L329 189.58 L329.8 189.21 L330.6 188.85 L331.4 188.49 L332.2 188.13 L333 187.79 L333.8 187.47 L334.6 187.15 L335.4 186.86 L336.2 186.58 L337 186.32 L337.8 186.07 L338.6 185.84 L339.4 185.61 L340.2 185.4 L341 185.2 L341.8 185.01 L342.6 184.82 L343.4 184.64 L344.2 184.47 L345 184.3 L345.8 184.13 L346.6 183.97 L347.4 183.8 L348.2 183.65 L349 183.49 L349.8 183.34 L350.6 183.2 L351.4 183.06 L352.2 182.93 L353 182.8 L353.8 182.68 L354.6 182.57 L355.4 182.46 L356.2 182.36 L357 182.26 L357.8 182.17 L358.6 182.08 L359.4 182 L360.2 181.93 L361 181.85 L361.8 181.79 L362.6 181.72 L363.4 181.66 L364.2 181.61 L365 181.56 L365.8 181.51 L366.6 181.46 L367.4 181.42 L368.2 181.38 L369 181.34 L369.8 181.31 L370.6 181.28 L371.4 181.24 L372.2 181.21 L373 181.19 L373.8 181.16 L374.6 181.14 L375.4 181.11 L376.2 181.09 L377 181.07 L377.8 181.05 L378.6 181.03 L379.4 181.01 L380.2 181 L381 180.98 L381.8 180.96 L382.6 180.95 L383.4 180.93 L384.2 180.92 L385 180.9 L385.8 180.88 L386.6 180.87 L387.4 180.85 L388.2 180.84 L389 180.82 L389.8 180.81 L390.6 180.79 L391.4 180.78 L392.2 180.76 L393 180.75 L393.8 180.73 L394.6 180.71 L395.4 180.7 L396.2 180.68 L397 180.67 L397.8 180.65 L398.6 180.64 L399.4 180.62 L400.2 180.61 L400.5 180.6" fill="none" stroke="#000000" stroke-width="1.5" stroke-linejoin="round" stroke-linecap="round" clip-path="url(#cb)"/>
<path d="M257 183.2 L257.8 183 L258.6 182.81 L259.4 182.63 L260.2 182.45 L261 182.29 L261.8 182.13 L262.6 182.01 L263.4 181.92 L264.2 181.88 L265 181.89 L265.8 181.99 L266.6 182.17 L267.4 182.43 L268.2 182.78 L269 183.2 L269.8 183.68 L270.6 184.2 L271.4 184.75 L272.2 185.33 L273 185.95 L273.8 186.6 L274.6 187.3 L275.4 188.04 L276.2 188.83 L277 189.67 L277.8 190.54 L278.6 191.44 L279.4 192.36 L280.2 193.27 L281 194.17 L281.8 195.05 L282.6 195.89 L283.4 196.69 L284.2 197.44 L285 198.15 L285.8 198.81 L286.6 199.42 L287.4 199.98 L288.2 200.49 L289 200.96 L289.8 201.37 L290.6 201.72 L291.4 202.03 L292.2 202.28 L293 202.49 L293.8 202.65 L294.6 202.77 L295.4 202.85 L296.2 202.89 L297 202.9 L297.8 202.87 L298.6 202.82 L299.4 202.73 L300.2 202.61 L301 202.46 L301.8 202.29 L302.6 202.09 L303.4 201.87 L304.2 201.63 L305 201.36 L305.8 201.07 L306.6 200.77 L307.4 200.44 L308.2 200.11 L309 199.76 L309.8 199.41 L310.6 199.05 L311.4 198.69 L312.2 198.33 L313 197.97 L313.8 197.63 L314.6 197.29 L315.4 196.97 L316.2 196.66 L317 196.37 L317.8 196.09 L318.6 195.82 L319.4 195.57 L320.2 195.32 L321 195.08 L321.8 194.84 L322.6 194.61 L323.4 194.38 L324.2 194.15 L325 193.93 L325.8 193.7 L326.6 193.46 L327.4 193.23 L328.2 192.99 L329 192.76 L329.8 192.52 L330.6 192.28 L331.4 192.05 L332.2 191.82 L333 191.58 L333.8 191.36 L334.6 191.14 L335.4 190.92 L336.2 190.71 L337 190.5 L337.8 190.3 L338.6 190.11 L339.4 189.93 L340.2 189.76 L341 189.6 L341.8 189.45 L342.6 189.3 L343.4 189.17 L344.2 189.04 L345 188.92 L345.8 188.81 L346.6 188.7 L347.4 188.6 L348.2 188.5 L349 188.41 L349.8 188.32 L350.6 188.24 L351.4 188.15 L352.2 188.08 L353 188 L353.8 187.92 L354.6 187.85 L355.4 187.78 L356.2 187.71 L357 187.64 L357.8 187.57 L358.6 187.51 L359.4 187.44 L360.2 187.38 L361 187.32 L361.8 187.26 L362.6 187.21 L363.4 187.15 L364.2 187.1 L365 187.05 L365.8 187.01 L366.6 186.96 L367.4 186.92 L368.2 186.88 L369 186.84 L369.8 186.81 L370.6 186.78 L371.4 186.75 L372.2 186.72 L373 186.7 L373.8 186.67 L374.6 186.65 L375.4 186.64 L376.2 186.62 L377 186.6 L377.8 186.59 L378.6 186.58 L379.4 186.57 L380.2 186.56 L381 186.54 L381.8 186.54 L382.6 186.53 L383.4 186.52 L384.2 186.51 L385 186.5 L385.8 186.49 L386.6 186.48 L387.4 186.47 L388.2 186.46 L389 186.45 L389.8 186.44 L390.6 186.43 L391.4 186.42 L392.2 186.41 L393 186.4 L393.8 186.39 L394.6 186.38 L395.4 186.37 L396.2 186.36 L397 186.35 L397.8 186.34 L398.6 186.33 L399.4 186.32 L400.2 186.3 L400.5 186.3" fill="none" stroke="#e81818" stroke-width="1.8" stroke-linejoin="round" stroke-linecap="round" clip-path="url(#cb)"/>
<path d="M257 287.04 L257.8 288.71 L258.6 290.37 L259.4 291.98 L260.2 293.52 L261 294.96 L261.8 296.3 L262.6 297.52 L263.4 298.62 L264.2 299.62 L265 300.5 L265.8 301.28 L266.6 301.94 L267.4 302.5 L268.2 302.94 L269 303.28 L269.8 303.5 L270.6 303.62 L271.4 303.62 L272.2 303.51 L273 303.29 L273.8 302.95 L274.6 302.5 L275.4 301.94 L276.2 301.26 L277 300.47 L277.8 299.57 L278.6 298.57 L279.4 297.48 L280.2 296.33 L281 295.13 L281.8 293.89 L282.6 292.63 L283.4 291.36 L284.2 290.09 L285 288.81 L285.8 287.54 L286.6 286.25 L287.4 284.96 L288.2 283.67 L289 282.37 L289.8 281.08 L290.6 279.78 L291.4 278.49 L292.2 277.21 L293 275.95 L293.8 274.7 L294.6 273.47 L295.4 272.25 L296.2 271.06 L297 269.88 L297.8 268.71 L298.6 267.56 L299.4 266.42 L300.2 265.3 L301 264.2 L301.8 263.12 L302.6 262.07 L303.4 261.06 L304.2 260.08 L305 259.16 L305.8 258.28 L306.6 257.44 L307.4 256.63 L308.2 255.86 L309 255.12 L309.8 254.39 L310.6 253.69 L311.4 253 L312.2 252.32 L313 251.64 L313.8 250.98 L314.6 250.32 L315.4 249.68 L316.2 249.06 L317 248.45 L317.8 247.87 L318.6 247.31 L319.4 246.78 L320.2 246.29 L321 245.82 L321.8 245.38 L322.6 244.97 L323.4 244.59 L324.2 244.23 L325 243.89 L325.8 243.57 L326.6 243.27 L327.4 242.98 L328.2 242.7 L329 242.43 L329.8 242.17 L330.6 241.92 L331.4 241.67 L332.2 241.42 L333 241.18 L333.8 240.94 L334.6 240.7 L335.4 240.47 L336.2 240.24 L337 240.01 L337.8 239.79 L338.6 239.57 L339.4 239.36 L340.2 239.15 L341 238.95 L341.8 238.75 L342.6 238.56 L343.4 238.37 L344.2 238.19 L345 238.02 L345.8 237.85 L346.6 237.69 L347.4 237.54 L348.2 237.39 L349 237.24 L349.8 237.1 L350.6 236.97 L351.4 236.84 L352.2 236.72 L353 236.6 L353.8 236.49 L354.6 236.38 L355.4 236.28 L356.2 236.18 L357 236.09 L357.8 236 L358.6 235.91 L359.4 235.83 L360.2 235.75 L361 235.67 L361.8 235.6 L362.6 235.52 L363.4 235.45 L364.2 235.38 L365 235.31 L365.8 235.25 L366.6 235.18 L367.4 235.12 L368.2 235.06 L369 234.99 L369.8 234.94 L370.6 234.88 L371.4 234.82 L372.2 234.76 L373 234.71 L373.8 234.66 L374.6 234.61 L375.4 234.56 L376.2 234.51 L377 234.46 L377.8 234.42 L378.6 234.37 L379.4 234.33 L380.2 234.29 L381 234.25 L381.8 234.21 L382.6 234.18 L383.4 234.14 L384.2 234.11 L385 234.08 L385.8 234.04 L386.6 234.01 L387.4 233.98 L388.2 233.96 L389 233.93 L389.8 233.9 L390.6 233.88 L391.4 233.85 L392.2 233.83 L393 233.8 L393.8 233.78 L394.6 233.76 L395.4 233.74 L396.2 233.71 L397 233.69 L397.8 233.67 L398.6 233.65 L399.4 233.63 L400.2 233.61 L400.5 233.6" fill="none" stroke="#14ee14" stroke-width="3.6" stroke-linejoin="round" stroke-linecap="round" clip-path="url(#cb)"/>
<path d="M257 287.04 L257.8 288.71 L258.6 290.37 L259.4 291.98 L260.2 293.52 L261 294.96 L261.8 296.3 L262.6 297.52 L263.4 298.62 L264.2 299.62 L265 300.5 L265.8 301.28 L266.6 301.94 L267.4 302.5 L268.2 302.94 L269 303.28 L269.8 303.5 L270.6 303.62 L271.4 303.62 L272.2 303.51 L273 303.29 L273.8 302.95 L274.6 302.5 L275.4 301.94 L276.2 301.26 L277 300.47 L277.8 299.57 L278.6 298.57 L279.4 297.48 L280.2 296.33 L281 295.13 L281.8 293.89 L282.6 292.63 L283.4 291.36 L284.2 290.09 L285 288.81 L285.8 287.54 L286.6 286.25 L287.4 284.96 L288.2 283.67 L289 282.37 L289.8 281.08 L290.6 279.78 L291.4 278.49 L292.2 277.21 L293 275.95 L293.8 274.7 L294.6 273.47 L295.4 272.25 L296.2 271.06 L297 269.88 L297.8 268.71 L298.6 267.56 L299.4 266.42 L300.2 265.3 L301 264.2 L301.8 263.12 L302.6 262.07 L303.4 261.06 L304.2 260.08 L305 259.16 L305.8 258.28 L306.6 257.44 L307.4 256.63 L308.2 255.86 L309 255.12 L309.8 254.39 L310.6 253.69 L311.4 253 L312.2 252.32 L313 251.64 L313.8 250.98 L314.6 250.32 L315.4 249.68 L316.2 249.06 L317 248.45 L317.8 247.87 L318.6 247.31 L319.4 246.78 L320.2 246.29 L321 245.82 L321.8 245.38 L322.6 244.97 L323.4 244.59 L324.2 244.23 L325 243.89 L325.8 243.57 L326.6 243.27 L327.4 242.98 L328.2 242.7 L329 242.43 L329.8 242.17 L330.6 241.92 L331.4 241.67 L332.2 241.42 L333 241.18 L333.8 240.94 L334.6 240.7 L335.4 240.47 L336.2 240.24 L337 240.01 L337.8 239.79 L338.6 239.57 L339.4 239.36 L340.2 239.15 L341 238.95 L341.8 238.75 L342.6 238.56 L343.4 238.37 L344.2 238.19 L345 238.02 L345.8 237.85 L346.6 237.69 L347.4 237.54 L348.2 237.39 L349 237.24 L349.8 237.1 L350.6 236.97 L351.4 236.84 L352.2 236.72 L353 236.6 L353.8 236.49 L354.6 236.38 L355.4 236.28 L356.2 236.18 L357 236.09 L357.8 236 L358.6 235.91 L359.4 235.83 L360.2 235.75 L361 235.67 L361.8 235.6 L362.6 235.52 L363.4 235.45 L364.2 235.38 L365 235.31 L365.8 235.25 L366.6 235.18 L367.4 235.12 L368.2 235.06 L369 234.99 L369.8 234.94 L370.6 234.88 L371.4 234.82 L372.2 234.76 L373 234.71 L373.8 234.66 L374.6 234.61 L375.4 234.56 L376.2 234.51 L377 234.46 L377.8 234.42 L378.6 234.37 L379.4 234.33 L380.2 234.29 L381 234.25 L381.8 234.21 L382.6 234.18 L383.4 234.14 L384.2 234.11 L385 234.08 L385.8 234.04 L386.6 234.01 L387.4 233.98 L388.2 233.96 L389 233.93 L389.8 233.9 L390.6 233.88 L391.4 233.85 L392.2 233.83 L393 233.8 L393.8 233.78 L394.6 233.76 L395.4 233.74 L396.2 233.71 L397 233.69 L397.8 233.67 L398.6 233.65 L399.4 233.63 L400.2 233.61 L400.5 233.6" fill="none" stroke="#000000" stroke-width="2.3" stroke-linejoin="round" stroke-linecap="round" clip-path="url(#cb)"/>
<path d="M257 260.7 L257.8 261.26 L258.6 261.82 L259.4 262.39 L260.2 262.95 L261 263.51 L261.8 264.07 L262.6 264.62 L263.4 265.16 L264.2 265.69 L265 266.19 L265.8 266.67 L266.6 267.12 L267.4 267.53 L268.2 267.93 L269 268.29 L269.8 268.62 L270.6 268.93 L271.4 269.21 L272.2 269.45 L273 269.66 L273.8 269.83 L274.6 269.96 L275.4 270.05 L276.2 270.1 L277 270.1 L277.8 270.06 L278.6 269.99 L279.4 269.89 L280.2 269.76 L281 269.62 L281.8 269.45 L282.6 269.28 L283.4 269.09 L284.2 268.89 L285 268.68 L285.8 268.45 L286.6 268.21 L287.4 267.95 L288.2 267.67 L289 267.37 L289.8 267.05 L290.6 266.72 L291.4 266.37 L292.2 266 L293 265.63 L293.8 265.25 L294.6 264.87 L295.4 264.49 L296.2 264.11 L297 263.74 L297.8 263.37 L298.6 263.01 L299.4 262.66 L300.2 262.32 L301 262 L301.8 261.68 L302.6 261.38 L303.4 261.1 L304.2 260.83 L305 260.58 L305.8 260.35 L306.6 260.14 L307.4 259.94 L308.2 259.75 L309 259.57 L309.8 259.41 L310.6 259.25 L311.4 259.11 L312.2 258.96 L313 258.82 L313.8 258.69 L314.6 258.56 L315.4 258.44 L316.2 258.32 L317 258.2 L317.8 258.09 L318.6 257.98 L319.4 257.88 L320.2 257.78 L321 257.68 L321.8 257.59 L322.6 257.5 L323.4 257.41 L324.2 257.33 L325 257.25 L325.8 257.17 L326.6 257.1 L327.4 257.02 L328.2 256.96 L329 256.89 L329.8 256.83 L330.6 256.76 L331.4 256.7 L332.2 256.65 L333 256.59 L333.8 256.54 L334.6 256.49 L335.4 256.44 L336.2 256.39 L337 256.34 L337.8 256.29 L338.6 256.25 L339.4 256.21 L340.2 256.16 L341 256.12 L341.8 256.08 L342.6 256.04 L343.4 256 L344.2 255.97 L345 255.93 L345.8 255.89 L346.6 255.86 L347.4 255.83 L348.2 255.79 L349 255.76 L349.8 255.73 L350.6 255.69 L351.4 255.66 L352.2 255.63 L353 255.6 L353.8 255.57 L354.6 255.54 L355.4 255.51 L356.2 255.48 L357 255.45 L357.8 255.42 L358.6 255.39 L359.4 255.36 L360.2 255.34 L361 255.31 L361.8 255.28 L362.6 255.25 L363.4 255.23 L364.2 255.2 L365 255.18 L365.8 255.15 L366.6 255.13 L367.4 255.1 L368.2 255.08 L369 255.06 L369.8 255.03 L370.6 255.01 L371.4 254.99 L372.2 254.97 L373 254.95 L373.8 254.93 L374.6 254.91 L375.4 254.89 L376.2 254.87 L377 254.85 L377.8 254.84 L378.6 254.82 L379.4 254.81 L380.2 254.79 L381 254.77 L381.8 254.76 L382.6 254.75 L383.4 254.73 L384.2 254.72 L385 254.71 L385.8 254.69 L386.6 254.68 L387.4 254.67 L388.2 254.66 L389 254.64 L389.8 254.63 L390.6 254.62 L391.4 254.61 L392.2 254.6 L393 254.59 L393.8 254.58 L394.6 254.57 L395.4 254.56 L396.2 254.55 L397 254.54 L397.8 254.53 L398.6 254.52 L399.4 254.51 L400.2 254.5 L400.5 254.5" fill="none" stroke="#1010e6" stroke-width="3.6" stroke-linejoin="round" stroke-linecap="round" clip-path="url(#cb)"/>
<path d="M257 260.7 L257.8 261.26 L258.6 261.82 L259.4 262.39 L260.2 262.95 L261 263.51 L261.8 264.07 L262.6 264.62 L263.4 265.16 L264.2 265.69 L265 266.19 L265.8 266.67 L266.6 267.12 L267.4 267.53 L268.2 267.93 L269 268.29 L269.8 268.62 L270.6 268.93 L271.4 269.21 L272.2 269.45 L273 269.66 L273.8 269.83 L274.6 269.96 L275.4 270.05 L276.2 270.1 L277 270.1 L277.8 270.06 L278.6 269.99 L279.4 269.89 L280.2 269.76 L281 269.62 L281.8 269.45 L282.6 269.28 L283.4 269.09 L284.2 268.89 L285 268.68 L285.8 268.45 L286.6 268.21 L287.4 267.95 L288.2 267.67 L289 267.37 L289.8 267.05 L290.6 266.72 L291.4 266.37 L292.2 266 L293 265.63 L293.8 265.25 L294.6 264.87 L295.4 264.49 L296.2 264.11 L297 263.74 L297.8 263.37 L298.6 263.01 L299.4 262.66 L300.2 262.32 L301 262 L301.8 261.68 L302.6 261.38 L303.4 261.1 L304.2 260.83 L305 260.58 L305.8 260.35 L306.6 260.14 L307.4 259.94 L308.2 259.75 L309 259.57 L309.8 259.41 L310.6 259.25 L311.4 259.11 L312.2 258.96 L313 258.82 L313.8 258.69 L314.6 258.56 L315.4 258.44 L316.2 258.32 L317 258.2 L317.8 258.09 L318.6 257.98 L319.4 257.88 L320.2 257.78 L321 257.68 L321.8 257.59 L322.6 257.5 L323.4 257.41 L324.2 257.33 L325 257.25 L325.8 257.17 L326.6 257.1 L327.4 257.02 L328.2 256.96 L329 256.89 L329.8 256.83 L330.6 256.76 L331.4 256.7 L332.2 256.65 L333 256.59 L333.8 256.54 L334.6 256.49 L335.4 256.44 L336.2 256.39 L337 256.34 L337.8 256.29 L338.6 256.25 L339.4 256.21 L340.2 256.16 L341 256.12 L341.8 256.08 L342.6 256.04 L343.4 256 L344.2 255.97 L345 255.93 L345.8 255.89 L346.6 255.86 L347.4 255.83 L348.2 255.79 L349 255.76 L349.8 255.73 L350.6 255.69 L351.4 255.66 L352.2 255.63 L353 255.6 L353.8 255.57 L354.6 255.54 L355.4 255.51 L356.2 255.48 L357 255.45 L357.8 255.42 L358.6 255.39 L359.4 255.36 L360.2 255.34 L361 255.31 L361.8 255.28 L362.6 255.25 L363.4 255.23 L364.2 255.2 L365 255.18 L365.8 255.15 L366.6 255.13 L367.4 255.1 L368.2 255.08 L369 255.06 L369.8 255.03 L370.6 255.01 L371.4 254.99 L372.2 254.97 L373 254.95 L373.8 254.93 L374.6 254.91 L375.4 254.89 L376.2 254.87 L377 254.85 L377.8 254.84 L378.6 254.82 L379.4 254.81 L380.2 254.79 L381 254.77 L381.8 254.76 L382.6 254.75 L383.4 254.73 L384.2 254.72 L385 254.71 L385.8 254.69 L386.6 254.68 L387.4 254.67 L388.2 254.66 L389 254.64 L389.8 254.63 L390.6 254.62 L391.4 254.61 L392.2 254.6 L393 254.59 L393.8 254.58 L394.6 254.57 L395.4 254.56 L396.2 254.55 L397 254.54 L397.8 254.53 L398.6 254.52 L399.4 254.51 L400.2 254.5 L400.5 254.5" fill="none" stroke="#a8208c" stroke-width="2.2" stroke-linejoin="round" stroke-linecap="round" clip-path="url(#cb)"/>
<path d="M257 362.69 L257.8 364.33 L258.6 365.91 L259.4 367.39 L260.2 368.7 L261 369.81 L261.8 370.73 L262.6 371.49 L263.4 372.1 L264.2 372.57 L265 372.91 L265.8 373.13 L266.6 373.23 L267.4 373.23 L268.2 373.12 L269 372.92 L269.8 372.64 L270.6 372.28 L271.4 371.85 L272.2 371.35 L273 370.79 L273.8 370.17 L274.6 369.51 L275.4 368.8 L276.2 368.05 L277 367.25 L277.8 366.41 L278.6 365.52 L279.4 364.58 L280.2 363.6 L281 362.58 L281.8 361.5 L282.6 360.39 L283.4 359.22 L284.2 358.02 L285 356.8 L285.8 355.55 L286.6 354.29 L287.4 353.02 L288.2 351.76 L289 350.52 L289.8 349.29 L290.6 348.09 L291.4 346.9 L292.2 345.73 L293 344.57 L293.8 343.42 L294.6 342.29 L295.4 341.15 L296.2 340.03 L297 338.9 L297.8 337.79 L298.6 336.7 L299.4 335.62 L300.2 334.57 L301 333.54 L301.8 332.55 L302.6 331.6 L303.4 330.69 L304.2 329.81 L305 328.97 L305.8 328.16 L306.6 327.38 L307.4 326.62 L308.2 325.9 L309 325.2 L309.8 324.52 L310.6 323.86 L311.4 323.23 L312.2 322.61 L313 322.02 L313.8 321.44 L314.6 320.88 L315.4 320.34 L316.2 319.81 L317 319.3 L317.8 318.8 L318.6 318.32 L319.4 317.85 L320.2 317.39 L321 316.95 L321.8 316.52 L322.6 316.1 L323.4 315.69 L324.2 315.3 L325 314.92 L325.8 314.56 L326.6 314.2 L327.4 313.86 L328.2 313.52 L329 313.2 L329.8 312.89 L330.6 312.59 L331.4 312.3 L332.2 312.01 L333 311.74 L333.8 311.47 L334.6 311.21 L335.4 310.96 L336.2 310.71 L337 310.47 L337.8 310.23 L338.6 310 L339.4 309.77 L340.2 309.54 L341 309.32 L341.8 309.1 L342.6 308.89 L343.4 308.68 L344.2 308.47 L345 308.26 L345.8 308.07 L346.6 307.87 L347.4 307.68 L348.2 307.5 L349 307.32 L349.8 307.14 L350.6 306.97 L351.4 306.81 L352.2 306.65 L353 306.5 L353.8 306.36 L354.6 306.22 L355.4 306.08 L356.2 305.96 L357 305.83 L357.8 305.72 L358.6 305.6 L359.4 305.5 L360.2 305.39 L361 305.29 L361.8 305.2 L362.6 305.11 L363.4 305.02 L364.2 304.93 L365 304.85 L365.8 304.77 L366.6 304.7 L367.4 304.62 L368.2 304.55 L369 304.48 L369.8 304.42 L370.6 304.35 L371.4 304.29 L372.2 304.22 L373 304.16 L373.8 304.1 L374.6 304.04 L375.4 303.98 L376.2 303.93 L377 303.87 L377.8 303.82 L378.6 303.77 L379.4 303.72 L380.2 303.67 L381 303.62 L381.8 303.57 L382.6 303.53 L383.4 303.48 L384.2 303.44 L385 303.4 L385.8 303.36 L386.6 303.32 L387.4 303.29 L388.2 303.25 L389 303.22 L389.8 303.18 L390.6 303.15 L391.4 303.12 L392.2 303.09 L393 303.06 L393.8 303.03 L394.6 303 L395.4 302.97 L396.2 302.94 L397 302.92 L397.8 302.89 L398.6 302.86 L399.4 302.84 L400.2 302.81 L400.5 302.8" fill="none" stroke="#14ee14" stroke-width="3.6" stroke-linejoin="round" stroke-linecap="round" clip-path="url(#cb)"/>
<path d="M257 329.61 L257.8 330.2 L258.6 330.79 L259.4 331.37 L260.2 331.94 L261 332.5 L261.8 333.03 L262.6 333.55 L263.4 334.04 L264.2 334.52 L265 334.97 L265.8 335.4 L266.6 335.81 L267.4 336.19 L268.2 336.53 L269 336.85 L269.8 337.13 L270.6 337.37 L271.4 337.57 L272.2 337.73 L273 337.85 L273.8 337.94 L274.6 337.99 L275.4 338.01 L276.2 338 L277 337.95 L277.8 337.88 L278.6 337.77 L279.4 337.64 L280.2 337.47 L281 337.28 L281.8 337.06 L282.6 336.8 L283.4 336.53 L284.2 336.22 L285 335.9 L285.8 335.56 L286.6 335.21 L287.4 334.85 L288.2 334.47 L289 334.1 L289.8 333.72 L290.6 333.34 L291.4 332.97 L292.2 332.59 L293 332.22 L293.8 331.86 L294.6 331.51 L295.4 331.16 L296.2 330.82 L297 330.49 L297.8 330.17 L298.6 329.87 L299.4 329.57 L300.2 329.28 L301 328.99 L301.8 328.72 L302.6 328.45 L303.4 328.18 L304.2 327.93 L305 327.67 L305.8 327.43 L306.6 327.18 L307.4 326.95 L308.2 326.71 L309 326.49 L309.8 326.27 L310.6 326.06 L311.4 325.85 L312.2 325.65 L313 325.46 L313.8 325.27 L314.6 325.1 L315.4 324.93 L316.2 324.76 L317 324.61 L317.8 324.46 L318.6 324.32 L319.4 324.19 L320.2 324.07 L321 323.96 L321.8 323.85 L322.6 323.75 L323.4 323.66 L324.2 323.58 L325 323.5 L325.8 323.43 L326.6 323.36 L327.4 323.3 L328.2 323.24 L329 323.18 L329.8 323.13 L330.6 323.08 L331.4 323.04 L332.2 322.99 L333 322.95 L333.8 322.91 L334.6 322.87 L335.4 322.83 L336.2 322.79 L337 322.75 L337.8 322.71 L338.6 322.66 L339.4 322.62 L340.2 322.58 L341 322.54 L341.8 322.49 L342.6 322.45 L343.4 322.41 L344.2 322.36 L345 322.32 L345.8 322.28 L346.6 322.23 L347.4 322.19 L348.2 322.15 L349 322.11 L349.8 322.06 L350.6 322.02 L351.4 321.98 L352.2 321.94 L353 321.9 L353.8 321.86 L354.6 321.82 L355.4 321.78 L356.2 321.74 L357 321.71 L357.8 321.67 L358.6 321.63 L359.4 321.6 L360.2 321.56 L361 321.53 L361.8 321.49 L362.6 321.46 L363.4 321.43 L364.2 321.39 L365 321.36 L365.8 321.33 L366.6 321.3 L367.4 321.27 L368.2 321.24 L369 321.21 L369.8 321.18 L370.6 321.15 L371.4 321.12 L372.2 321.09 L373 321.07 L373.8 321.04 L374.6 321.01 L375.4 320.99 L376.2 320.96 L377 320.94 L377.8 320.91 L378.6 320.89 L379.4 320.86 L380.2 320.84 L381 320.81 L381.8 320.79 L382.6 320.77 L383.4 320.74 L384.2 320.72 L385 320.7 L385.8 320.68 L386.6 320.66 L387.4 320.63 L388.2 320.61 L389 320.59 L389.8 320.57 L390.6 320.55 L391.4 320.53 L392.2 320.51 L393 320.49 L393.8 320.47 L394.6 320.45 L395.4 320.43 L396.2 320.41 L397 320.39 L397.8 320.37 L398.6 320.35 L399.4 320.33 L400.2 320.31 L400.5 320.3" fill="none" stroke="#1010e6" stroke-width="3.6" stroke-linejoin="round" stroke-linecap="round" clip-path="url(#cb)"/>
<path d="M257 372.5 L257.8 371.13 L258.6 369.76 L259.4 368.39 L260.2 367.03 L261 365.68 L261.8 364.33 L262.6 362.99 L263.4 361.66 L264.2 360.36 L265 359.08 L265.8 357.83 L266.6 356.62 L267.4 355.44 L268.2 354.28 L269 353.13 L269.8 351.99 L270.6 350.84 L271.4 349.67 L272.2 348.48 L273 347.26 L273.8 346.03 L274.6 344.79 L275.4 343.54 L276.2 342.29 L277 341.05 L277.8 339.82 L278.6 338.61 L279.4 337.42 L280.2 336.26 L281 335.13 L281.8 334.02 L282.6 332.94 L283.4 331.88 L284.2 330.85 L285 329.84 L285.8 328.85 L286.6 327.88 L287.4 326.92 L288.2 325.99 L289 325.08 L289.8 324.19 L290.6 323.32 L291.4 322.48 L292.2 321.66 L293 320.87 L293.8 320.1 L294.6 319.36 L295.4 318.65 L296.2 317.97 L297 317.32 L297.8 316.69 L298.6 316.08 L299.4 315.49 L300.2 314.91 L301 314.36 L301.8 313.82 L302.6 313.29 L303.4 312.76 L304.2 312.25 L305 311.74 L305.8 311.24 L306.6 310.74 L307.4 310.25 L308.2 309.76 L309 309.28 L309.8 308.81 L310.6 308.35 L311.4 307.9 L312.2 307.45 L313 307.02 L313.8 306.6 L314.6 306.2 L315.4 305.8 L316.2 305.42 L317 305.05 L317.8 304.69 L318.6 304.34 L319.4 304 L320.2 303.67 L321 303.36 L321.8 303.05 L322.6 302.75 L323.4 302.45 L324.2 302.17 L325 301.89 L325.8 301.62 L326.6 301.36 L327.4 301.11 L328.2 300.86 L329 300.62 L329.8 300.39 L330.6 300.16 L331.4 299.94 L332.2 299.72 L333 299.51 L333.8 299.3 L334.6 299.1 L335.4 298.91 L336.2 298.71 L337 298.53 L337.8 298.34 L338.6 298.17 L339.4 297.99 L340.2 297.82 L341 297.65 L341.8 297.49 L342.6 297.33 L343.4 297.17 L344.2 297.01 L345 296.86 L345.8 296.71 L346.6 296.57 L347.4 296.43 L348.2 296.29 L349 296.15 L349.8 296.01 L350.6 295.88 L351.4 295.75 L352.2 295.63 L353 295.5 L353.8 295.38 L354.6 295.26 L355.4 295.14 L356.2 295.02 L357 294.9 L357.8 294.79 L358.6 294.68 L359.4 294.57 L360.2 294.46 L361 294.36 L361.8 294.25 L362.6 294.15 L363.4 294.05 L364.2 293.96 L365 293.86 L365.8 293.77 L366.6 293.67 L367.4 293.58 L368.2 293.49 L369 293.41 L369.8 293.32 L370.6 293.24 L371.4 293.16 L372.2 293.07 L373 293 L373.8 292.92 L374.6 292.84 L375.4 292.77 L376.2 292.7 L377 292.63 L377.8 292.56 L378.6 292.49 L379.4 292.42 L380.2 292.36 L381 292.29 L381.8 292.23 L382.6 292.17 L383.4 292.11 L384.2 292.06 L385 292 L385.8 291.95 L386.6 291.89 L387.4 291.84 L388.2 291.79 L389 291.74 L389.8 291.69 L390.6 291.64 L391.4 291.6 L392.2 291.55 L393 291.5 L393.8 291.46 L394.6 291.41 L395.4 291.37 L396.2 291.33 L397 291.28 L397.8 291.24 L398.6 291.2 L399.4 291.16 L400.2 291.12 L400.5 291.1" fill="none" stroke="#000000" stroke-width="1.5" stroke-linejoin="round" stroke-linecap="round" clip-path="url(#cb)"/>
<path d="M257 339.5 L257.8 339.26 L258.6 339.01 L259.4 338.76 L260.2 338.51 L261 338.26 L261.8 338.01 L262.6 337.75 L263.4 337.49 L264.2 337.22 L265 336.95 L265.8 336.67 L266.6 336.38 L267.4 336.09 L268.2 335.79 L269 335.49 L269.8 335.19 L270.6 334.88 L271.4 334.58 L272.2 334.28 L273 333.98 L273.8 333.68 L274.6 333.39 L275.4 333.11 L276.2 332.83 L277 332.57 L277.8 332.31 L278.6 332.06 L279.4 331.82 L280.2 331.58 L281 331.35 L281.8 331.13 L282.6 330.91 L283.4 330.7 L284.2 330.49 L285 330.29 L285.8 330.09 L286.6 329.9 L287.4 329.7 L288.2 329.51 L289 329.33 L289.8 329.14 L290.6 328.96 L291.4 328.78 L292.2 328.6 L293 328.43 L293.8 328.26 L294.6 328.09 L295.4 327.92 L296.2 327.76 L297 327.6 L297.8 327.44 L298.6 327.28 L299.4 327.13 L300.2 326.98 L301 326.83 L301.8 326.68 L302.6 326.54 L303.4 326.4 L304.2 326.26 L305 326.12 L305.8 325.99 L306.6 325.86 L307.4 325.74 L308.2 325.62 L309 325.5 L309.8 325.39 L310.6 325.28 L311.4 325.17 L312.2 325.07 L313 324.97 L313.8 324.87 L314.6 324.78 L315.4 324.68 L316.2 324.6 L317 324.51 L317.8 324.42 L318.6 324.34 L319.4 324.26 L320.2 324.18 L321 324.1 L321.8 324.03 L322.6 323.95 L323.4 323.88 L324.2 323.8 L325 323.73 L325.8 323.67 L326.6 323.6 L327.4 323.53 L328.2 323.47 L329 323.4 L329.8 323.34 L330.6 323.28 L331.4 323.22 L332.2 323.16 L333 323.1 L333.8 323.05 L334.6 322.99 L335.4 322.94 L336.2 322.89 L337 322.84 L337.8 322.79 L338.6 322.74 L339.4 322.69 L340.2 322.64 L341 322.6 L341.8 322.55 L342.6 322.51 L343.4 322.47 L344.2 322.43 L345 322.38 L345.8 322.34 L346.6 322.3 L347.4 322.26 L348.2 322.23 L349 322.19 L349.8 322.15 L350.6 322.11 L351.4 322.07 L352.2 322.04 L353 322 L353.8 321.96 L354.6 321.93 L355.4 321.89 L356.2 321.85 L357 321.82 L357.8 321.78 L358.6 321.75 L359.4 321.71 L360.2 321.68 L361 321.64 L361.8 321.61 L362.6 321.58 L363.4 321.54 L364.2 321.51 L365 321.48 L365.8 321.44 L366.6 321.41 L367.4 321.38 L368.2 321.35 L369 321.32 L369.8 321.29 L370.6 321.26 L371.4 321.23 L372.2 321.2 L373 321.17 L373.8 321.14 L374.6 321.11 L375.4 321.09 L376.2 321.06 L377 321.03 L377.8 321.01 L378.6 320.98 L379.4 320.96 L380.2 320.93 L381 320.91 L381.8 320.88 L382.6 320.86 L383.4 320.84 L384.2 320.82 L385 320.79 L385.8 320.77 L386.6 320.75 L387.4 320.73 L388.2 320.71 L389 320.69 L389.8 320.66 L390.6 320.64 L391.4 320.62 L392.2 320.6 L393 320.58 L393.8 320.56 L394.6 320.54 L395.4 320.52 L396.2 320.5 L397 320.48 L397.8 320.47 L398.6 320.45 L399.4 320.43 L400.2 320.41 L400.5 320.4" fill="none" stroke="#e81818" stroke-width="1.8" stroke-linejoin="round" stroke-linecap="round" clip-path="url(#cb)"/>
<path d="M257 339.5 L257.8 339.26 L258.6 339.01 L259.4 338.76 L260.2 338.51 L261 338.26 L261.8 338.01 L262.6 337.75 L263.4 337.49 L264.2 337.22 L265 336.95 L265.8 336.67 L266.6 336.38 L267.4 336.09 L268.2 335.79 L269 335.49 L269.8 335.19 L270.6 334.88 L271.4 334.58 L272.2 334.28 L273 333.98 L273.8 333.68 L274.6 333.39 L275.4 333.11 L276.2 332.83 L277 332.57 L277.8 332.31 L278.6 332.06 L279.4 331.82 L280.2 331.58 L281 331.35 L281.8 331.13 L282.6 330.91 L283.4 330.7 L284.2 330.49 L285 330.29 L285.8 330.09 L286.6 329.9 L287.4 329.7 L288.2 329.51 L289 329.33 L289.8 329.14 L290.6 328.96 L291.4 328.78 L292.2 328.6 L293 328.43 L293.8 328.26 L294.6 328.09 L295.4 327.92 L296.2 327.76 L297 327.6 L297.8 327.44 L298.6 327.28 L299.4 327.13 L300.2 326.98 L301 326.83 L301.8 326.68 L302.6 326.54 L303.4 326.4 L304.2 326.26 L305 326.12 L305.8 325.99 L306.6 325.86 L307.4 325.74 L308.2 325.62 L309 325.5 L309.8 325.39 L310.6 325.28 L311.4 325.17 L312.2 325.07 L313 324.97 L313.8 324.87 L314.6 324.78 L315.4 324.68 L316.2 324.6 L317 324.51 L317.8 324.42 L318.6 324.34 L319.4 324.26 L320.2 324.18 L321 324.1 L321.8 324.03 L322.6 323.95 L323.4 323.88 L324.2 323.8 L325 323.73 L325.8 323.67 L326.6 323.6 L327.4 323.53 L328.2 323.47 L329 323.4 L329.8 323.34 L330.6 323.28 L331.4 323.22 L332.2 323.16 L333 323.1 L333.8 323.05 L334.6 322.99 L335.4 322.94 L336.2 322.89 L337 322.84 L337.8 322.79 L338.6 322.74 L339.4 322.69 L340.2 322.64 L341 322.6 L341.8 322.55 L342.6 322.51 L343.4 322.47 L344.2 322.43 L345 322.38 L345.8 322.34 L346.6 322.3 L347.4 322.26 L348.2 322.23 L349 322.19 L349.8 322.15 L350.6 322.11 L351.4 322.07 L352.2 322.04 L353 322 L353.8 321.96 L354.6 321.93 L355.4 321.89 L356.2 321.85 L357 321.82 L357.8 321.78 L358.6 321.75 L359.4 321.71 L360.2 321.68 L361 321.64 L361.8 321.61 L362.6 321.58 L363.4 321.54 L364.2 321.51 L365 321.48 L365.8 321.44 L366.6 321.41 L367.4 321.38 L368.2 321.35 L369 321.32 L369.8 321.29 L370.6 321.26 L371.4 321.23 L372.2 321.2 L373 321.17 L373.8 321.14 L374.6 321.11 L375.4 321.09 L376.2 321.06 L377 321.03 L377.8 321.01 L378.6 320.98 L379.4 320.96 L380.2 320.93 L381 320.91 L381.8 320.88 L382.6 320.86 L383.4 320.84 L384.2 320.82 L385 320.79 L385.8 320.77 L386.6 320.75 L387.4 320.73 L388.2 320.71 L389 320.69 L389.8 320.66 L390.6 320.64 L391.4 320.62 L392.2 320.6 L393 320.58 L393.8 320.56 L394.6 320.54 L395.4 320.52 L396.2 320.5 L397 320.48 L397.8 320.47 L398.6 320.45 L399.4 320.43 L400.2 320.41 L400.5 320.4" fill="none" stroke="#a8208c" stroke-width="2.0" stroke-linejoin="round" stroke-linecap="round" clip-path="url(#cb0)"/>
<rect x="257.0" y="12.4" width="143.89999999999998" height="382.3" fill="none" stroke="#000" stroke-width="2"/>
<line x1="257" y1="369.48" x2="260" y2="369.48" stroke="#000" stroke-width="1.6" />
<line x1="257" y1="327" x2="261.3" y2="327" stroke="#000" stroke-width="1.6" />
<line x1="257" y1="284.52" x2="260" y2="284.52" stroke="#000" stroke-width="1.6" />
<line x1="257" y1="242.05" x2="261.3" y2="242.05" stroke="#000" stroke-width="1.6" />
<line x1="257" y1="199.57" x2="260" y2="199.57" stroke="#000" stroke-width="1.6" />
<line x1="257" y1="157.1" x2="261.3" y2="157.1" stroke="#000" stroke-width="1.6" />
<line x1="257" y1="114.62" x2="260" y2="114.62" stroke="#000" stroke-width="1.6" />
<line x1="257" y1="72.15" x2="261.3" y2="72.15" stroke="#000" stroke-width="1.6" />
<line x1="257" y1="29.68" x2="260" y2="29.68" stroke="#000" stroke-width="1.6" />
<text x="252" y="77.55" font-size="14" text-anchor="end" font-weight="normal" font-family="Liberation Sans, sans-serif" >1.5</text>
<text x="252" y="162.5" font-size="14" text-anchor="end" font-weight="normal" font-family="Liberation Sans, sans-serif" >1.0</text>
<text x="252" y="247.45" font-size="14" text-anchor="end" font-weight="normal" font-family="Liberation Sans, sans-serif" >0.5</text>
<text x="252" y="332.4" font-size="14" text-anchor="end" font-weight="normal" font-family="Liberation Sans, sans-serif" >0.0</text>
<line x1="276.3" y1="394.7" x2="276.3" y2="391.5" stroke="#000" stroke-width="1.6" />
<line x1="307.4" y1="394.7" x2="307.4" y2="390.1" stroke="#000" stroke-width="1.6" />
<line x1="338.5" y1="394.7" x2="338.5" y2="391.5" stroke="#000" stroke-width="1.6" />
<line x1="369.6" y1="394.7" x2="369.6" y2="390.1" stroke="#000" stroke-width="1.6" />
<text x="307.4" y="410.5" font-size="14" text-anchor="middle" font-weight="normal" font-family="Liberation Sans, sans-serif" >1500</text>
<text x="369.6" y="410.5" font-size="14" text-anchor="middle" font-weight="normal" font-family="Liberation Sans, sans-serif" >2000</text>
<text x="329.3" y="430" font-size="13.6" text-anchor="middle" font-weight="normal" font-family="Liberation Sans, sans-serif" >Wavelength (nm)</text>
<text transform="translate(221.8 202.5) rotate(-90)" font-size="14" text-anchor="middle" font-family="Liberation Sans, sans-serif">&#916;OD/OD<tspan font-size="10" dy="3">Ant</tspan></text>
<text x="210.7" y="15.4" font-size="17" text-anchor="start" font-weight="bold" font-family="Liberation Sans, sans-serif" >b</text>
<line x1="342.4" y1="351.4" x2="350" y2="351.4" stroke="#d8168a" stroke-width="1.7" />
<path d="M354.4 351.4 L348.4 348.4 L349.7 351.4 L348.4 354.4 Z" fill="#d8168a"/>
<line x1="342.4" y1="357.6" x2="350" y2="357.6" stroke="#000000" stroke-width="1.7" />
<path d="M354.4 357.6 L348.4 354.6 L349.7 357.6 L348.4 360.6 Z" fill="#000000"/>
<line x1="368" y1="361.6" x2="368" y2="353.9" stroke="#d8168a" stroke-width="1.7" />
<path d="M368 349 L365 355.5 L368 354.2 L371 355.5 Z" fill="#d8168a"/>
<line x1="373" y1="355" x2="380.6" y2="355" stroke="#e81818" stroke-width="1.7" />
<path d="M385 355 L379 352 L380.3 355 L379 358 Z" fill="#e81818"/>
<line x1="345" y1="382.4" x2="345" y2="375.3" stroke="#d8168a" stroke-width="1.7" />
<path d="M345 370.4 L342 376.9 L345 375.6 L348 376.9 Z" fill="#d8168a"/>
<line x1="352.4" y1="382.4" x2="352.4" y2="375.3" stroke="#14ee14" stroke-width="1.7" />
<path d="M352.4 370.4 L349.4 376.9 L352.4 375.6 L355.4 376.9 Z" fill="#14ee14"/>
<line x1="365" y1="377.4" x2="372.6" y2="377.4" stroke="#d8168a" stroke-width="1.7" />
<path d="M377 377.4 L371 374.4 L372.3 377.4 L371 380.4 Z" fill="#d8168a"/>
<line x1="379.6" y1="382.4" x2="379.6" y2="375.3" stroke="#1010e6" stroke-width="1.7" />
<path d="M379.6 370.4 L376.6 376.9 L379.6 375.6 L382.6 376.9 Z" fill="#1010e6"/>
<rect x="453.5" y="52.5" width="21.2" height="21.4" fill="#0000a8" shape-rendering="crispEdges"/>
<rect x="474.3" y="52.5" width="21.1" height="21.4" fill="#0a50f5" shape-rendering="crispEdges"/>
<rect x="495" y="52.5" width="21.4" height="21.4" fill="#00ffff" shape-rendering="crispEdges"/>
<rect x="516" y="52.5" width="21.2" height="21.4" fill="#d8ff20" shape-rendering="crispEdges"/>
<rect x="536.8" y="52.5" width="21.1" height="21.4" fill="#ff8000" shape-rendering="crispEdges"/>
<rect x="453.5" y="73.5" width="21.2" height="20.9" fill="#0000e0" shape-rendering="crispEdges"/>
<rect x="474.3" y="73.5" width="21.1" height="20.9" fill="#1090f0" shape-rendering="crispEdges"/>
<rect x="495" y="73.5" width="21.4" height="20.9" fill="#40ffc0" shape-rendering="crispEdges"/>
<rect x="516" y="73.5" width="21.2" height="20.9" fill="#ffe800" shape-rendering="crispEdges"/>
<rect x="536.8" y="73.5" width="21.1" height="20.9" fill="#ff4000" shape-rendering="crispEdges"/>
<rect x="453.5" y="94" width="21.2" height="20.6" fill="#0a1ef5" shape-rendering="crispEdges"/>
<rect x="474.3" y="94" width="21.1" height="20.6" fill="#10b8f5" shape-rendering="crispEdges"/>
<rect x="495" y="94" width="21.4" height="20.6" fill="#70ff88" shape-rendering="crispEdges"/>
<rect x="516" y="94" width="21.2" height="20.6" fill="#ffc000" shape-rendering="crispEdges"/>
<rect x="536.8" y="94" width="21.1" height="20.6" fill="#ff0000" shape-rendering="crispEdges"/>
<rect x="453.5" y="114.2" width="21.2" height="21" fill="#0850f5" shape-rendering="crispEdges"/>
<rect x="474.3" y="114.2" width="21.1" height="21" fill="#10c0f5" shape-rendering="crispEdges"/>
<rect x="495" y="114.2" width="21.4" height="21" fill="#90ff60" shape-rendering="crispEdges"/>
<rect x="516" y="114.2" width="21.2" height="21" fill="#ffa000" shape-rendering="crispEdges"/>
<rect x="536.8" y="114.2" width="21.1" height="21" fill="#d00000" shape-rendering="crispEdges"/>
<rect x="453.5" y="134.8" width="21.2" height="20.6" fill="#0855f5" shape-rendering="crispEdges"/>
<rect x="474.3" y="134.8" width="21.1" height="20.6" fill="#00ffff" shape-rendering="crispEdges"/>
<rect x="495" y="134.8" width="21.4" height="20.6" fill="#c0ff40" shape-rendering="crispEdges"/>
<rect x="516" y="134.8" width="21.2" height="20.6" fill="#ff5000" shape-rendering="crispEdges"/>
<rect x="536.8" y="134.8" width="21.1" height="20.6" fill="#800000" shape-rendering="crispEdges"/>
<rect x="453.5" y="52.5" width="104" height="102.5" fill="none" stroke="#000" stroke-width="1.4"/>
<rect x="685" y="52.3" width="21.2" height="20.4" fill="#00009c" shape-rendering="crispEdges"/>
<rect x="705.8" y="52.3" width="21.4" height="20.4" fill="#0868f8" shape-rendering="crispEdges"/>
<rect x="726.8" y="52.3" width="21.1" height="20.4" fill="#40ffc8" shape-rendering="crispEdges"/>
<rect x="747.5" y="52.3" width="21.2" height="20.4" fill="#f0ff10" shape-rendering="crispEdges"/>
<rect x="768.3" y="52.3" width="21.1" height="20.4" fill="#ff6000" shape-rendering="crispEdges"/>
<rect x="685" y="72.3" width="21.2" height="21.1" fill="#00009c" shape-rendering="crispEdges"/>
<rect x="705.8" y="72.3" width="21.4" height="21.1" fill="#0898f8" shape-rendering="crispEdges"/>
<rect x="726.8" y="72.3" width="21.1" height="21.1" fill="#48ffc0" shape-rendering="crispEdges"/>
<rect x="747.5" y="72.3" width="21.2" height="21.1" fill="#ffd800" shape-rendering="crispEdges"/>
<rect x="768.3" y="72.3" width="21.1" height="21.1" fill="#ff3000" shape-rendering="crispEdges"/>
<rect x="685" y="93" width="21.2" height="20.9" fill="#00009c" shape-rendering="crispEdges"/>
<rect x="705.8" y="93" width="21.4" height="20.9" fill="#1098f8" shape-rendering="crispEdges"/>
<rect x="726.8" y="93" width="21.1" height="20.9" fill="#90ff60" shape-rendering="crispEdges"/>
<rect x="747.5" y="93" width="21.2" height="20.9" fill="#ffc000" shape-rendering="crispEdges"/>
<rect x="768.3" y="93" width="21.1" height="20.9" fill="#f00000" shape-rendering="crispEdges"/>
<rect x="685" y="113.5" width="21.2" height="20.9" fill="#00009c" shape-rendering="crispEdges"/>
<rect x="705.8" y="113.5" width="21.4" height="20.9" fill="#10b8f8" shape-rendering="crispEdges"/>
<rect x="726.8" y="113.5" width="21.1" height="20.9" fill="#98ff58" shape-rendering="crispEdges"/>
<rect x="747.5" y="113.5" width="21.2" height="20.9" fill="#ff9000" shape-rendering="crispEdges"/>
<rect x="768.3" y="113.5" width="21.1" height="20.9" fill="#e00000" shape-rendering="crispEdges"/>
<rect x="685" y="134" width="21.2" height="21.7" fill="#00009c" shape-rendering="crispEdges"/>
<rect x="705.8" y="134" width="21.4" height="21.7" fill="#10d0f8" shape-rendering="crispEdges"/>
<rect x="726.8" y="134" width="21.1" height="21.7" fill="#c0ff40" shape-rendering="crispEdges"/>
<rect x="747.5" y="134" width="21.2" height="21.7" fill="#ff7000" shape-rendering="crispEdges"/>
<rect x="768.3" y="134" width="21.1" height="21.7" fill="#b00000" shape-rendering="crispEdges"/>
<rect x="685" y="52.3" width="104" height="103" fill="none" stroke="#000" stroke-width="1.4"/>
<rect x="476.5" y="185" width="20.2" height="20.9" fill="#d80000" shape-rendering="crispEdges"/>
<rect x="496.3" y="185" width="20.9" height="20.9" fill="#ff2800" shape-rendering="crispEdges"/>
<rect x="516.8" y="185" width="20.9" height="20.9" fill="#ff4800" shape-rendering="crispEdges"/>
<rect x="537.3" y="185" width="21.1" height="20.9" fill="#ff6800" shape-rendering="crispEdges"/>
<rect x="476.5" y="205.5" width="20.2" height="21.2" fill="#300000" shape-rendering="crispEdges"/>
<rect x="496.3" y="205.5" width="20.9" height="21.2" fill="#ff4800" shape-rendering="crispEdges"/>
<rect x="516.8" y="205.5" width="20.9" height="21.2" fill="#ffa000" shape-rendering="crispEdges"/>
<rect x="537.3" y="205.5" width="21.1" height="21.2" fill="#ff6c00" shape-rendering="crispEdges"/>
<rect x="476.5" y="226.3" width="20.2" height="20.9" fill="#300000" shape-rendering="crispEdges"/>
<rect x="496.3" y="226.3" width="20.9" height="20.9" fill="#ff9c00" shape-rendering="crispEdges"/>
<rect x="516.8" y="226.3" width="20.9" height="20.9" fill="#ff5000" shape-rendering="crispEdges"/>
<rect x="537.3" y="226.3" width="21.1" height="20.9" fill="#ff3000" shape-rendering="crispEdges"/>
<rect x="476.5" y="246.8" width="20.2" height="21.1" fill="#ff6800" shape-rendering="crispEdges"/>
<rect x="496.3" y="246.8" width="20.9" height="21.1" fill="#ffff60" shape-rendering="crispEdges"/>
<rect x="516.8" y="246.8" width="20.9" height="21.1" fill="#ffe800" shape-rendering="crispEdges"/>
<rect x="537.3" y="246.8" width="21.1" height="21.1" fill="#ff7c00" shape-rendering="crispEdges"/>
<rect x="476.5" y="267.5" width="20.2" height="20.4" fill="#ffffa0" shape-rendering="crispEdges"/>
<rect x="496.3" y="267.5" width="20.9" height="20.4" fill="#fffff8" shape-rendering="crispEdges"/>
<rect x="516.8" y="267.5" width="20.9" height="20.4" fill="#ffffd0" shape-rendering="crispEdges"/>
<rect x="537.3" y="267.5" width="21.1" height="20.4" fill="#ffff80" shape-rendering="crispEdges"/>
<line x1="457" y1="186" x2="475.5" y2="204.5" stroke="#a6a6a6" stroke-width="1.3" />
<line x1="457" y1="204.5" x2="475.5" y2="186" stroke="#a6a6a6" stroke-width="1.3" />
<line x1="457" y1="206.5" x2="475.5" y2="225.3" stroke="#a6a6a6" stroke-width="1.3" />
<line x1="457" y1="225.3" x2="475.5" y2="206.5" stroke="#a6a6a6" stroke-width="1.3" />
<line x1="457" y1="227.3" x2="475.5" y2="245.8" stroke="#a6a6a6" stroke-width="1.3" />
<line x1="457" y1="245.8" x2="475.5" y2="227.3" stroke="#a6a6a6" stroke-width="1.3" />
<line x1="457" y1="247.8" x2="475.5" y2="266.5" stroke="#a6a6a6" stroke-width="1.3" />
<line x1="457" y1="266.5" x2="475.5" y2="247.8" stroke="#a6a6a6" stroke-width="1.3" />
<line x1="457" y1="268.5" x2="475.5" y2="286.5" stroke="#a6a6a6" stroke-width="1.3" />
<line x1="457" y1="286.5" x2="475.5" y2="268.5" stroke="#a6a6a6" stroke-width="1.3" />
<rect x="455.5" y="185" width="102.5" height="102.5" fill="none" stroke="#000" stroke-width="1.4"/>
<rect x="475.5" y="314.2" width="20.9" height="20.5" fill="#ffff80" shape-rendering="crispEdges"/>
<rect x="496" y="314.2" width="21.4" height="20.5" fill="#ffff00" shape-rendering="crispEdges"/>
<rect x="517" y="314.2" width="20.9" height="20.5" fill="#ffc800" shape-rendering="crispEdges"/>
<rect x="537.5" y="314.2" width="20.9" height="20.5" fill="#ffc800" shape-rendering="crispEdges"/>
<rect x="475.5" y="334.3" width="20.9" height="21.4" fill="#fffff0" shape-rendering="crispEdges"/>
<rect x="496" y="334.3" width="21.4" height="21.4" fill="#ffff60" shape-rendering="crispEdges"/>
<rect x="517" y="334.3" width="20.9" height="21.4" fill="#ffee00" shape-rendering="crispEdges"/>
<rect x="537.5" y="334.3" width="20.9" height="21.4" fill="#ffa800" shape-rendering="crispEdges"/>
<rect x="475.5" y="355.3" width="20.9" height="21.1" fill="#ffffd0" shape-rendering="crispEdges"/>
<rect x="496" y="355.3" width="21.4" height="21.1" fill="#ffe000" shape-rendering="crispEdges"/>
<rect x="517" y="355.3" width="20.9" height="21.1" fill="#ff4800" shape-rendering="crispEdges"/>
<rect x="537.5" y="355.3" width="20.9" height="21.1" fill="#ff5000" shape-rendering="crispEdges"/>
<rect x="475.5" y="376" width="20.9" height="20.9" fill="#ffffc8" shape-rendering="crispEdges"/>
<rect x="496" y="376" width="21.4" height="20.9" fill="#ffff70" shape-rendering="crispEdges"/>
<rect x="517" y="376" width="20.9" height="20.9" fill="#ff8c00" shape-rendering="crispEdges"/>
<rect x="537.5" y="376" width="20.9" height="20.9" fill="#ff7000" shape-rendering="crispEdges"/>
<rect x="475.5" y="396.5" width="20.9" height="20.4" fill="#ffffc0" shape-rendering="crispEdges"/>
<rect x="496" y="396.5" width="21.4" height="20.4" fill="#ffff00" shape-rendering="crispEdges"/>
<rect x="517" y="396.5" width="20.9" height="20.4" fill="#ffff00" shape-rendering="crispEdges"/>
<rect x="537.5" y="396.5" width="20.9" height="20.4" fill="#ffa000" shape-rendering="crispEdges"/>
<line x1="457" y1="315.2" x2="474.5" y2="333.3" stroke="#a6a6a6" stroke-width="1.3" />
<line x1="457" y1="333.3" x2="474.5" y2="315.2" stroke="#a6a6a6" stroke-width="1.3" />
<line x1="457" y1="335.3" x2="474.5" y2="354.3" stroke="#a6a6a6" stroke-width="1.3" />
<line x1="457" y1="354.3" x2="474.5" y2="335.3" stroke="#a6a6a6" stroke-width="1.3" />
<line x1="457" y1="356.3" x2="474.5" y2="375" stroke="#a6a6a6" stroke-width="1.3" />
<line x1="457" y1="375" x2="474.5" y2="356.3" stroke="#a6a6a6" stroke-width="1.3" />
<line x1="457" y1="377" x2="474.5" y2="395.5" stroke="#a6a6a6" stroke-width="1.3" />
<line x1="457" y1="395.5" x2="474.5" y2="377" stroke="#a6a6a6" stroke-width="1.3" />
<line x1="457" y1="397.5" x2="474.5" y2="415.5" stroke="#a6a6a6" stroke-width="1.3" />
<line x1="457" y1="415.5" x2="474.5" y2="397.5" stroke="#a6a6a6" stroke-width="1.3" />
<rect x="455.5" y="314.2" width="102.5" height="102.3" fill="none" stroke="#000" stroke-width="1.4"/>
<rect x="685.5" y="184.3" width="22.2" height="20.4" fill="#100000" shape-rendering="crispEdges"/>
<rect x="707.3" y="184.3" width="21.1" height="20.4" fill="#480000" shape-rendering="crispEdges"/>
<rect x="728" y="184.3" width="20.5" height="20.4" fill="#ff5800" shape-rendering="crispEdges"/>
<rect x="748.1" y="184.3" width="21.1" height="20.4" fill="#ffa400" shape-rendering="crispEdges"/>
<rect x="768.8" y="184.3" width="20.6" height="20.4" fill="#ff9800" shape-rendering="crispEdges"/>
<rect x="685.5" y="204.3" width="22.2" height="20.9" fill="#100000" shape-rendering="crispEdges"/>
<rect x="707.3" y="204.3" width="21.1" height="20.9" fill="#480000" shape-rendering="crispEdges"/>
<rect x="728" y="204.3" width="20.5" height="20.9" fill="#ff5800" shape-rendering="crispEdges"/>
<rect x="748.1" y="204.3" width="21.1" height="20.9" fill="#ffa400" shape-rendering="crispEdges"/>
<rect x="768.8" y="204.3" width="20.6" height="20.9" fill="#ffa400" shape-rendering="crispEdges"/>
<rect x="685.5" y="224.8" width="22.2" height="21.6" fill="#500000" shape-rendering="crispEdges"/>
<rect x="707.3" y="224.8" width="21.1" height="21.6" fill="#480000" shape-rendering="crispEdges"/>
<rect x="728" y="224.8" width="20.5" height="21.6" fill="#ff6000" shape-rendering="crispEdges"/>
<rect x="748.1" y="224.8" width="21.1" height="21.6" fill="#ffa400" shape-rendering="crispEdges"/>
<rect x="768.8" y="224.8" width="20.6" height="21.6" fill="#ffa400" shape-rendering="crispEdges"/>
<rect x="685.5" y="246" width="22.2" height="21" fill="#a00000" shape-rendering="crispEdges"/>
<rect x="707.3" y="246" width="21.1" height="21" fill="#2a0000" shape-rendering="crispEdges"/>
<rect x="728" y="246" width="20.5" height="21" fill="#ff6800" shape-rendering="crispEdges"/>
<rect x="748.1" y="246" width="21.1" height="21" fill="#ffa800" shape-rendering="crispEdges"/>
<rect x="768.8" y="246" width="20.6" height="21" fill="#ffa800" shape-rendering="crispEdges"/>
<rect x="685.5" y="266.6" width="22.2" height="21" fill="#cc0000" shape-rendering="crispEdges"/>
<rect x="707.3" y="266.6" width="21.1" height="21" fill="#600000" shape-rendering="crispEdges"/>
<rect x="728" y="266.6" width="20.5" height="21" fill="#ff6800" shape-rendering="crispEdges"/>
<rect x="748.1" y="266.6" width="21.1" height="21" fill="#ffa800" shape-rendering="crispEdges"/>
<rect x="768.8" y="266.6" width="20.6" height="21" fill="#ffff50" shape-rendering="crispEdges"/>
<rect x="685.5" y="184.3" width="103.5" height="102.9" fill="none" stroke="#000" stroke-width="1.4"/>
<rect x="685.5" y="313.6" width="20.9" height="20.8" fill="#ffe000" shape-rendering="crispEdges"/>
<rect x="706" y="313.6" width="21.4" height="20.8" fill="#ffff20" shape-rendering="crispEdges"/>
<rect x="727" y="313.6" width="21.5" height="20.8" fill="#ff9800" shape-rendering="crispEdges"/>
<rect x="748.1" y="313.6" width="21.5" height="20.8" fill="#ff8400" shape-rendering="crispEdges"/>
<rect x="769.2" y="313.6" width="20.5" height="20.8" fill="#ff7400" shape-rendering="crispEdges"/>
<rect x="685.5" y="334" width="20.9" height="21.4" fill="#ffff00" shape-rendering="crispEdges"/>
<rect x="706" y="334" width="21.4" height="21.4" fill="#ffff20" shape-rendering="crispEdges"/>
<rect x="727" y="334" width="21.5" height="21.4" fill="#ff9800" shape-rendering="crispEdges"/>
<rect x="748.1" y="334" width="21.5" height="21.4" fill="#ff7000" shape-rendering="crispEdges"/>
<rect x="769.2" y="334" width="20.5" height="21.4" fill="#ff7800" shape-rendering="crispEdges"/>
<rect x="685.5" y="355" width="20.9" height="20.9" fill="#ffff10" shape-rendering="crispEdges"/>
<rect x="706" y="355" width="21.4" height="20.9" fill="#ffff18" shape-rendering="crispEdges"/>
<rect x="727" y="355" width="21.5" height="20.9" fill="#ffa000" shape-rendering="crispEdges"/>
<rect x="748.1" y="355" width="21.5" height="20.9" fill="#ff9800" shape-rendering="crispEdges"/>
<rect x="769.2" y="355" width="20.5" height="20.9" fill="#ff8000" shape-rendering="crispEdges"/>
<rect x="685.5" y="375.5" width="20.9" height="20.9" fill="#ffff10" shape-rendering="crispEdges"/>
<rect x="706" y="375.5" width="21.4" height="20.9" fill="#ffff10" shape-rendering="crispEdges"/>
<rect x="727" y="375.5" width="21.5" height="20.9" fill="#ffa800" shape-rendering="crispEdges"/>
<rect x="748.1" y="375.5" width="21.5" height="20.9" fill="#ff9c00" shape-rendering="crispEdges"/>
<rect x="769.2" y="375.5" width="20.5" height="20.9" fill="#ff7c00" shape-rendering="crispEdges"/>
<rect x="685.5" y="396" width="20.9" height="20.4" fill="#ffff18" shape-rendering="crispEdges"/>
<rect x="706" y="396" width="21.4" height="20.4" fill="#ffff10" shape-rendering="crispEdges"/>
<rect x="727" y="396" width="21.5" height="20.4" fill="#ffc400" shape-rendering="crispEdges"/>
<rect x="748.1" y="396" width="21.5" height="20.4" fill="#ffa000" shape-rendering="crispEdges"/>
<rect x="769.2" y="396" width="20.5" height="20.4" fill="#ffd000" shape-rendering="crispEdges"/>
<rect x="685.5" y="313.6" width="103.8" height="102.4" fill="none" stroke="#000" stroke-width="1.4"/>
<rect x="562.3" y="52.5" width="8.2" height="103" fill="url(#jet)" stroke="#000" stroke-width="1"/>
<rect x="793.3" y="52.5" width="8.1" height="103" fill="url(#jet)" stroke="#000" stroke-width="1"/>
<rect x="564.2" y="183.6" width="8.1" height="103.6" fill="url(#hot)" stroke="#000" stroke-width="1"/>
<rect x="564" y="313.2" width="8.5" height="103.8" fill="url(#hot)" stroke="#000" stroke-width="1"/>
<rect x="794.3" y="183.2" width="8.3" height="104" fill="url(#hot)" stroke="#000" stroke-width="1"/>
<rect x="794.3" y="313.2" width="8.3" height="103.8" fill="url(#hot)" stroke="#000" stroke-width="1"/>
<line x1="568.3" y1="77.5" x2="570.5" y2="77.5" stroke="#000" stroke-width="1.1" />
<line x1="568.3" y1="102.5" x2="570.5" y2="102.5" stroke="#000" stroke-width="1.1" />
<line x1="568.3" y1="128" x2="570.5" y2="128" stroke="#000" stroke-width="1.1" />
<line x1="799.2" y1="77.5" x2="801.4" y2="77.5" stroke="#000" stroke-width="1.1" />
<line x1="799.2" y1="102.5" x2="801.4" y2="102.5" stroke="#000" stroke-width="1.1" />
<line x1="799.2" y1="128" x2="801.4" y2="128" stroke="#000" stroke-width="1.1" />
<text x="577.5" y="57.3" font-size="14" text-anchor="start" font-weight="normal" font-family="Liberation Sans, sans-serif" >1.8</text>
<text x="577.5" y="106.8" font-size="14" text-anchor="start" font-weight="normal" font-family="Liberation Sans, sans-serif" >1.4</text>
<text x="577.5" y="157.2" font-size="14" text-anchor="start" font-weight="normal" font-family="Liberation Sans, sans-serif" >1.0</text>
<text x="808.2" y="57.3" font-size="14" text-anchor="start" font-weight="normal" font-family="Liberation Sans, sans-serif" >1.8</text>
<text x="808.2" y="106.8" font-size="14" text-anchor="start" font-weight="normal" font-family="Liberation Sans, sans-serif" >1.4</text>
<text x="808.2" y="157.2" font-size="14" text-anchor="start" font-weight="normal" font-family="Liberation Sans, sans-serif" >1.0</text>
<text x="577.5" y="195.3" font-size="14" text-anchor="start" font-weight="normal" font-family="Liberation Sans, sans-serif" >0.0</text>
<text x="575.8" y="288" font-size="14" text-anchor="start" font-weight="normal" font-family="Liberation Sans, sans-serif" >&#8722;0.15</text>
<text x="577" y="323.6" font-size="14" text-anchor="start" font-weight="normal" font-family="Liberation Sans, sans-serif" >0.0</text>
<text x="575.8" y="418.9" font-size="14" text-anchor="start" font-weight="normal" font-family="Liberation Sans, sans-serif" >&#8722;0.15</text>
<text x="807.5" y="195.6" font-size="14" text-anchor="start" font-weight="normal" font-family="Liberation Sans, sans-serif" >0.0</text>
<text x="806.5" y="288.7" font-size="14" text-anchor="start" font-weight="normal" font-family="Liberation Sans, sans-serif" >&#8722;0.3</text>
<text x="807.5" y="323.6" font-size="14" text-anchor="start" font-weight="normal" font-family="Liberation Sans, sans-serif" >0.0</text>
<text x="806.5" y="417.8" font-size="14" text-anchor="start" font-weight="normal" font-family="Liberation Sans, sans-serif" >&#8722;0.3</text>
<text transform="translate(609.5 105) rotate(-90)" font-size="14" text-anchor="middle" font-family="Liberation Sans, sans-serif">Resonance</text>
<text transform="translate(625.8 104.3) rotate(-90)" font-size="13.5" text-anchor="middle" font-family="Liberation Sans, sans-serif">wavelength (&#956;m)</text>
<text transform="translate(844.5 105) rotate(-90)" font-size="14" text-anchor="middle" font-family="Liberation Sans, sans-serif">Resonance</text>
<text transform="translate(859.1 104.3) rotate(-90)" font-size="13.5" text-anchor="middle" font-family="Liberation Sans, sans-serif">wavelength (&#956;m)</text>
<text transform="translate(611.5 235) rotate(-90)" font-size="14" text-anchor="middle" font-family="Liberation Sans, sans-serif">&#916;OD/OD<tspan font-size="10" dy="3">Ant</tspan></text>
<text transform="translate(611.5 364.3) rotate(-90)" font-size="14" text-anchor="middle" font-family="Liberation Sans, sans-serif">&#916;OD/OD<tspan font-size="10" dy="3">Ant</tspan></text>
<text transform="translate(844.5 234.7) rotate(-90)" font-size="14" text-anchor="middle" font-family="Liberation Sans, sans-serif">&#916;OD/OD<tspan font-size="10" dy="3">Ant</tspan></text>
<text transform="translate(844.5 365.7) rotate(-90)" font-size="14" text-anchor="middle" font-family="Liberation Sans, sans-serif">&#916;OD/OD<tspan font-size="10" dy="3">Ant</tspan></text>
<text transform="translate(429.8 103.5) rotate(-90)" font-size="14" text-anchor="middle" font-family="Liberation Sans, sans-serif"><tspan font-style="italic">L</tspan><tspan font-size="10" dy="3">v</tspan><tspan dy="-3">(nm)</tspan></text>
<text transform="translate(429.8 236) rotate(-90)" font-size="14" text-anchor="middle" font-family="Liberation Sans, sans-serif"><tspan font-style="italic">L</tspan><tspan font-size="10" dy="3">v</tspan><tspan dy="-3">(nm)</tspan></text>
<text transform="translate(429.8 365) rotate(-90)" font-size="14" text-anchor="middle" font-family="Liberation Sans, sans-serif"><tspan font-style="italic">L</tspan><tspan font-size="10" dy="3">v</tspan><tspan dy="-3">(nm)</tspan></text>
<text transform="translate(654.1 107.3) rotate(-90)" font-size="14" text-anchor="middle" font-family="Liberation Sans, sans-serif"><tspan font-style="italic">L</tspan><tspan font-size="10" dy="3">v</tspan><tspan dy="-3">(nm)</tspan></text>
<text transform="translate(654.3 239.5) rotate(-90)" font-size="14" text-anchor="middle" font-family="Liberation Sans, sans-serif"><tspan font-style="italic">L</tspan><tspan font-size="10" dy="3">v</tspan><tspan dy="-3">(nm)</tspan></text>
<text transform="translate(654.3 364.7) rotate(-90)" font-size="14" text-anchor="middle" font-family="Liberation Sans, sans-serif"><tspan font-style="italic">L</tspan><tspan font-size="10" dy="3">v</tspan><tspan dy="-3">(nm)</tspan></text>
<text x="449.5" y="64.8" font-size="14" text-anchor="end" font-weight="normal" font-family="Liberation Sans, sans-serif" >160</text>
<text x="449.5" y="150.8" font-size="14" text-anchor="end" font-weight="normal" font-family="Liberation Sans, sans-serif" >360</text>
<text x="680.7" y="64.8" font-size="14" text-anchor="end" font-weight="normal" font-family="Liberation Sans, sans-serif" >140</text>
<text x="680.7" y="150.8" font-size="14" text-anchor="end" font-weight="normal" font-family="Liberation Sans, sans-serif" >340</text>
<text x="450.5" y="197" font-size="14" text-anchor="end" font-weight="normal" font-family="Liberation Sans, sans-serif" >160</text>
<text x="450.5" y="282.5" font-size="14" text-anchor="end" font-weight="normal" font-family="Liberation Sans, sans-serif" >360</text>
<text x="450.5" y="327" font-size="14" text-anchor="end" font-weight="normal" font-family="Liberation Sans, sans-serif" >160</text>
<text x="450.5" y="412.8" font-size="14" text-anchor="end" font-weight="normal" font-family="Liberation Sans, sans-serif" >360</text>
<text x="681.5" y="197" font-size="14" text-anchor="end" font-weight="normal" font-family="Liberation Sans, sans-serif" >140</text>
<text x="681.5" y="327" font-size="14" text-anchor="end" font-weight="normal" font-family="Liberation Sans, sans-serif" >140</text>
<text x="681.5" y="412.8" font-size="14" text-anchor="end" font-weight="normal" font-family="Liberation Sans, sans-serif" >340</text>
<text x="462.3" y="48" font-size="14" text-anchor="middle" font-weight="normal" font-family="Liberation Sans, sans-serif" >160</text>
<text x="546.5" y="48" font-size="14" text-anchor="middle" font-weight="normal" font-family="Liberation Sans, sans-serif" >360</text>
<text x="694" y="48" font-size="14" text-anchor="middle" font-weight="normal" font-family="Liberation Sans, sans-serif" >140</text>
<text x="777.6" y="48" font-size="14" text-anchor="middle" font-weight="normal" font-family="Liberation Sans, sans-serif" >340</text>
<text x="463.2" y="432.5" font-size="14" text-anchor="middle" font-weight="normal" font-family="Liberation Sans, sans-serif" >160</text>
<text x="547.8" y="432.5" font-size="14" text-anchor="middle" font-weight="normal" font-family="Liberation Sans, sans-serif" >360</text>
<text x="694" y="432.5" font-size="14" text-anchor="middle" font-weight="normal" font-family="Liberation Sans, sans-serif" >140</text>
<text x="778.5" y="432.5" font-size="14" text-anchor="middle" font-weight="normal" font-family="Liberation Sans, sans-serif" >340</text>
<text x="506" y="18" font-size="14" text-anchor="middle" font-weight="normal" font-family="Liberation Sans, sans-serif" >Experiment</text>
<text x="502.2" y="31.8" font-size="14" text-anchor="middle" font-weight="normal" font-family="Liberation Sans, sans-serif" ><tspan font-style="italic">L</tspan><tspan font-size="10" dy="3.8">h</tspan><tspan dy="-3.8">(nm)</tspan></text>
<text x="737" y="18" font-size="14" text-anchor="middle" font-weight="normal" font-family="Liberation Sans, sans-serif" >Calculation</text>
<text x="733.5" y="32.3" font-size="14" text-anchor="middle" font-weight="normal" font-family="Liberation Sans, sans-serif" ><tspan font-style="italic">L</tspan><tspan font-size="10" dy="3.8">h</tspan><tspan dy="-3.8">(nm)</tspan></text>
<text x="507.5" y="448.8" font-size="14" text-anchor="middle" font-weight="normal" font-family="Liberation Sans, sans-serif" ><tspan font-style="italic">L</tspan><tspan font-size="10" dy="3.8">h</tspan><tspan dy="-3.8">(nm)</tspan></text>
<text x="740" y="448.8" font-size="14" text-anchor="middle" font-weight="normal" font-family="Liberation Sans, sans-serif" ><tspan font-style="italic">L</tspan><tspan font-size="10" dy="3.8">h</tspan><tspan dy="-3.8">(nm)</tspan></text>
<text x="584.6" y="39.6" font-size="13.7" text-anchor="start" font-weight="normal" font-family="Liberation Sans, sans-serif" >Probe</text>
<line x1="625.2" y1="34.8" x2="635.3" y2="34.8" stroke="#000000" stroke-width="1.8" />
<path d="M640.5 34.8 L633.7 31.5 L635 34.8 L633.7 38.1 Z" fill="#000000"/>
<text x="419.3" y="15.6" font-size="17" text-anchor="start" font-weight="bold" font-family="Liberation Sans, sans-serif" >c</text>
<text x="644.8" y="14.9" font-size="17" text-anchor="start" font-weight="bold" font-family="Liberation Sans, sans-serif" >d</text>
<text x="418.8" y="176.3" font-size="17" text-anchor="start" font-weight="bold" font-family="Liberation Sans, sans-serif" >e</text>
<text x="651.3" y="176.3" font-size="17" text-anchor="start" font-weight="bold" font-family="Liberation Sans, sans-serif" >f</text>
<line x1="455.3" y1="166.3" x2="466.3" y2="166.3" stroke="#d8168a" stroke-width="1.7" />
<path d="M470.7 166.3 L464.7 163.3 L466 166.3 L464.7 169.3 Z" fill="#d8168a"/>
<line x1="455.3" y1="176.4" x2="466.3" y2="176.4" stroke="#000000" stroke-width="1.7" />
<path d="M470.7 176.4 L464.7 173.4 L466 176.4 L464.7 179.4 Z" fill="#000000"/>
<line x1="688.8" y1="166.3" x2="699.4" y2="166.3" stroke="#d8168a" stroke-width="1.7" />
<path d="M703.8 166.3 L697.8 163.3 L699.1 166.3 L697.8 169.3 Z" fill="#d8168a"/>
<line x1="688.8" y1="176.4" x2="699.4" y2="176.4" stroke="#000000" stroke-width="1.7" />
<path d="M703.8 176.4 L697.8 173.4 L699.1 176.4 L697.8 179.4 Z" fill="#000000"/>
<line x1="460.5" y1="309.6" x2="460.5" y2="299.5" stroke="#d8168a" stroke-width="1.7" />
<path d="M460.5 294.6 L457.5 301.1 L460.5 299.8 L463.5 301.1 Z" fill="#d8168a"/>
<line x1="467" y1="303.6" x2="478.6" y2="303.6" stroke="#e81818" stroke-width="1.7" />
<path d="M483 303.6 L477 300.6 L478.3 303.6 L477 306.6 Z" fill="#e81818"/>
<line x1="693.8" y1="309.6" x2="693.8" y2="299.5" stroke="#d8168a" stroke-width="1.7" />
<path d="M693.8 294.6 L690.8 301.1 L693.8 299.8 L696.8 301.1 Z" fill="#d8168a"/>
<line x1="700.4" y1="303.5" x2="711.4" y2="303.5" stroke="#e81818" stroke-width="1.7" />
<path d="M715.8 303.5 L709.8 300.5 L711.1 303.5 L709.8 306.5 Z" fill="#e81818"/>
</svg>
</body></html>
